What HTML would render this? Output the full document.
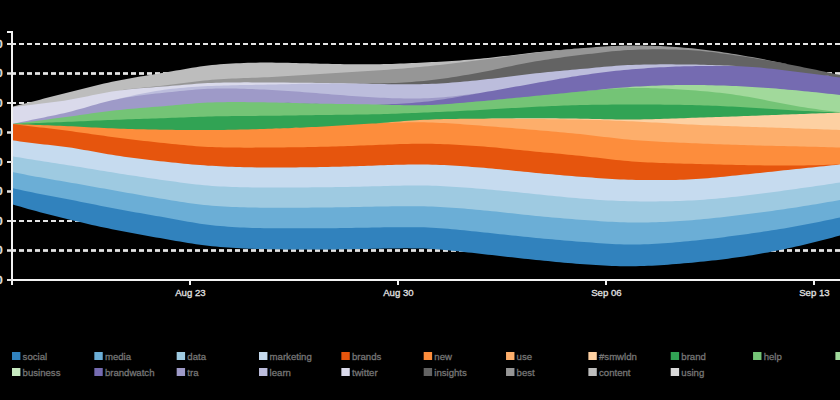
<!DOCTYPE html>
<html><head><meta charset="utf-8"><title>Stream</title>
<style>
html,body{margin:0;padding:0;background:#000;}
body{width:840px;height:400px;overflow:hidden;}
svg{display:block;font-family:"Liberation Sans",sans-serif;font-size:9.6px;}
.grid line{stroke:#e4e4e4;stroke-width:2;stroke-dasharray:5,3;}
.axis line.yt{stroke:#e4e4e4;shape-rendering:auto;}
.axis line,.axis path{stroke:#f2f2f2;stroke-width:2;fill:none;shape-rendering:crispEdges;}
.areas path{stroke:none;}
.areas path.sil{shape-rendering:crispEdges;}
.ax text{fill:#e2e2e2;stroke:#e2e2e2;stroke-width:.3;}
.ax text.yl{font-weight:bold;font-size:10.5px;}
.legend text{fill:#767676;stroke:#767676;stroke-width:.3;}
</style></head><body>
<svg width="840" height="400" viewBox="0 0 840 400">
<rect width="840" height="400" fill="#000"/>
<g class="grid">
<line x1="11" x2="840" y1="44.0" y2="44.0"/>
<line x1="11" x2="840" y1="73.5" y2="73.5"/>
<line x1="11" x2="840" y1="73.5" y2="73.5"/>
<line x1="11" x2="840" y1="73.5" y2="73.5"/>
<line x1="11" x2="840" y1="103.0" y2="103.0"/>
<line x1="11" x2="840" y1="132.5" y2="132.5"/>
<line x1="11" x2="840" y1="132.5" y2="132.5"/>
<line x1="11" x2="840" y1="132.5" y2="132.5"/>
<line x1="11" x2="840" y1="162.0" y2="162.0"/>
<line x1="11" x2="840" y1="191.5" y2="191.5"/>
<line x1="11" x2="840" y1="191.5" y2="191.5"/>
<line x1="11" x2="840" y1="191.5" y2="191.5"/>
<line x1="11" x2="840" y1="221.0" y2="221.0"/>
<line x1="11" x2="840" y1="250.5" y2="250.5"/>
<line x1="11" x2="840" y1="250.5" y2="250.5"/>
<line x1="11" x2="840" y1="250.5" y2="250.5"/>
<line x1="11" x2="840" y1="280.0" y2="280.0"/>
</g>
<g class="areas">
<path fill="#bdbdbd" d="M12.0,106.80L16.0,105.78L20.0,104.75L24.0,103.73L28.0,102.71L32.0,101.68L36.0,100.66L40.0,99.64L44.0,98.61L48.0,97.59L52.0,96.57L56.0,95.54L60.0,94.52L64.0,93.50L68.0,92.48L72.0,91.46L76.0,90.44L80.0,89.42L84.0,88.41L88.0,87.41L92.0,86.42L96.0,85.46L100.0,84.51L104.0,83.59L108.0,82.69L112.0,81.83L116.0,81.00L120.0,80.21L124.0,79.44L128.0,78.70L132.0,77.99L136.0,77.29L140.0,76.61L144.0,75.94L148.0,75.29L152.0,74.63L156.0,73.98L160.0,73.33L164.0,72.67L168.0,72.00L172.0,71.31L176.0,70.61L180.0,69.90L184.0,69.19L188.0,68.49L192.0,67.81L196.0,67.17L200.0,66.57L204.0,66.01L208.0,65.52L212.0,65.09L216.0,64.71L220.0,64.36L224.0,64.05L228.0,63.77L232.0,63.52L236.0,63.31L240.0,63.13L244.0,62.97L248.0,62.84L252.0,62.74L256.0,62.67L260.0,62.62L264.0,62.59L268.0,62.59L272.0,62.60L276.0,62.63L280.0,62.69L284.0,62.75L288.0,62.83L292.0,62.92L296.0,63.02L300.0,63.13L304.0,63.23L308.0,63.34L312.0,63.45L316.0,63.56L320.0,63.66L324.0,63.75L328.0,63.84L332.0,63.92L336.0,63.99L340.0,64.07L344.0,64.13L348.0,64.19L352.0,64.23L356.0,64.27L360.0,64.29L364.0,64.30L368.0,64.30L372.0,64.28L376.0,64.25L380.0,64.19L384.0,64.11L388.0,64.01L392.0,63.89L396.0,63.75L400.0,63.60L404.0,63.43L408.0,63.25L412.0,63.07L416.0,62.89L420.0,62.70L424.0,62.51L428.0,62.31L432.0,62.11L436.0,61.90L440.0,61.67L444.0,61.44L448.0,61.20L452.0,60.94L456.0,60.68L460.0,60.39L464.0,60.10L468.0,59.79L472.0,59.46L476.0,59.11L480.0,58.75L484.0,58.36L488.0,57.95L492.0,57.52L496.0,57.06L500.0,56.60L504.0,56.12L508.0,55.63L512.0,55.15L516.0,54.66L520.0,54.18L524.0,53.70L528.0,53.24L532.0,52.80L536.0,52.37L540.0,51.95L544.0,51.54L548.0,51.14L552.0,50.75L556.0,50.37L560.0,50.00L564.0,49.64L568.0,49.29L572.0,48.95L576.0,48.62L580.0,48.31L584.0,48.00L588.0,47.69L592.0,47.38L596.0,47.08L600.0,46.80L604.0,46.54L608.0,46.30L612.0,46.08L616.0,45.89L620.0,45.73L624.0,45.61L628.0,45.53L632.0,45.48L636.0,45.47L640.0,45.49L644.0,45.55L648.0,45.64L652.0,45.76L656.0,45.91L660.0,46.08L664.0,46.28L668.0,46.51L672.0,46.77L676.0,47.04L680.0,47.34L684.0,47.66L688.0,48.00L692.0,48.37L696.0,48.77L700.0,49.21L704.0,49.68L708.0,50.18L712.0,50.71L716.0,51.26L720.0,51.84L724.0,52.44L728.0,53.06L732.0,53.69L736.0,54.34L740.0,55.00L744.0,55.68L748.0,56.38L752.0,57.10L756.0,57.84L760.0,58.59L764.0,59.36L768.0,60.15L772.0,60.94L776.0,61.74L780.0,62.55L784.0,63.37L788.0,64.18L792.0,65.00L796.0,65.78L800.0,66.57L804.0,67.38L808.0,68.19L812.0,69.02L816.0,69.85L820.0,70.69L824.0,71.54L828.0,72.40L832.0,73.26L836.0,74.13L840.0,75.00L840.0,75.00L836.0,74.13L832.0,73.26L828.0,72.40L824.0,71.54L820.0,70.69L816.0,69.85L812.0,69.02L808.0,68.19L804.0,67.38L800.0,66.57L796.0,65.78L792.0,65.00L788.0,64.18L784.0,63.37L780.0,62.55L776.0,61.75L772.0,60.94L768.0,60.15L764.0,59.37L760.0,58.60L756.0,57.84L752.0,57.10L748.0,56.38L744.0,55.68L740.0,55.00L736.0,54.34L732.0,53.69L728.0,53.06L724.0,52.44L720.0,51.84L716.0,51.26L712.0,50.71L708.0,50.18L704.0,49.68L700.0,49.21L696.0,48.77L692.0,48.37L688.0,48.00L684.0,47.66L680.0,47.35L676.0,47.06L672.0,46.78L668.0,46.54L664.0,46.31L660.0,46.11L656.0,45.94L652.0,45.79L648.0,45.67L644.0,45.58L640.0,45.52L636.0,45.49L632.0,45.49L628.0,45.53L624.0,45.61L620.0,45.73L616.0,45.89L612.0,46.08L608.0,46.30L604.0,46.54L600.0,46.80L596.0,47.08L592.0,47.38L588.0,47.69L584.0,48.00L580.0,48.37L576.0,48.76L572.0,49.19L568.0,49.63L564.0,50.10L560.0,50.58L556.0,51.09L552.0,51.60L548.0,52.13L544.0,52.67L540.0,53.21L536.0,53.75L532.0,54.30L528.0,54.78L524.0,55.27L520.0,55.77L516.0,56.28L512.0,56.80L508.0,57.32L504.0,57.85L500.0,58.38L496.0,58.91L492.0,59.44L488.0,59.96L484.0,60.48L480.0,61.00L476.0,61.51L472.0,62.02L468.0,62.53L464.0,63.03L460.0,63.53L456.0,64.02L452.0,64.51L448.0,64.98L444.0,65.45L440.0,65.91L436.0,66.35L432.0,66.79L428.0,67.21L424.0,67.61L420.0,68.00L416.0,68.37L412.0,68.74L408.0,69.08L404.0,69.42L400.0,69.74L396.0,70.06L392.0,70.36L388.0,70.66L384.0,70.95L380.0,71.23L376.0,71.50L372.0,71.77L368.0,72.03L364.0,72.28L360.0,72.53L356.0,72.78L352.0,73.02L348.0,73.26L344.0,73.51L340.0,73.75L336.0,73.99L332.0,74.24L328.0,74.49L324.0,74.75L320.0,75.01L316.0,75.28L312.0,75.55L308.0,75.82L304.0,76.09L300.0,76.35L296.0,76.61L292.0,76.87L288.0,77.12L284.0,77.36L280.0,77.59L276.0,77.80L272.0,78.00L268.0,78.18L264.0,78.35L260.0,78.51L256.0,78.66L252.0,78.80L248.0,78.94L244.0,79.09L240.0,79.25L236.0,79.41L232.0,79.59L228.0,79.79L224.0,80.01L220.0,80.25L216.0,80.53L212.0,80.83L208.0,81.18L204.0,81.57L200.0,82.00L196.0,82.47L192.0,82.96L188.0,83.47L184.0,83.99L180.0,84.51L176.0,85.02L172.0,85.52L168.0,86.00L164.0,86.45L160.0,86.88L156.0,87.30L152.0,87.72L148.0,88.13L144.0,88.54L140.0,88.96L136.0,89.40L132.0,89.86L128.0,90.34L124.0,90.86L120.0,91.41L116.0,92.00L112.0,92.61L108.0,93.27L104.0,93.99L100.0,94.76L96.0,95.55L92.0,96.36L88.0,97.18L84.0,98.00L80.0,98.81L76.0,99.60L72.0,100.35L68.0,101.05L64.0,101.70L60.0,102.29L56.0,102.83L52.0,103.35L48.0,103.84L44.0,104.32L40.0,104.80L36.0,105.30L32.0,105.80L28.0,106.31L24.0,106.83L20.0,107.35L16.0,107.87L12.0,108.40Z"/>
<path fill="#969696" d="M12.0,107.40L16.0,106.87L20.0,106.35L24.0,105.83L28.0,105.31L32.0,104.80L36.0,104.30L40.0,103.80L44.0,103.32L48.0,102.84L52.0,102.35L56.0,101.83L60.0,101.29L64.0,100.70L68.0,100.05L72.0,99.35L76.0,98.60L80.0,97.81L84.0,97.00L88.0,96.18L92.0,95.36L96.0,94.55L100.0,93.76L104.0,92.99L108.0,92.27L112.0,91.61L116.0,91.00L120.0,90.41L124.0,89.86L128.0,89.34L132.0,88.86L136.0,88.40L140.0,87.96L144.0,87.54L148.0,87.13L152.0,86.72L156.0,86.30L160.0,85.88L164.0,85.45L168.0,85.00L172.0,84.52L176.0,84.02L180.0,83.51L184.0,82.99L188.0,82.47L192.0,81.96L196.0,81.47L200.0,81.00L204.0,80.57L208.0,80.18L212.0,79.83L216.0,79.53L220.0,79.25L224.0,79.01L228.0,78.79L232.0,78.59L236.0,78.41L240.0,78.25L244.0,78.09L248.0,77.94L252.0,77.80L256.0,77.66L260.0,77.51L264.0,77.35L268.0,77.18L272.0,77.00L276.0,76.80L280.0,76.59L284.0,76.36L288.0,76.12L292.0,75.87L296.0,75.61L300.0,75.35L304.0,75.09L308.0,74.82L312.0,74.55L316.0,74.28L320.0,74.01L324.0,73.75L328.0,73.49L332.0,73.24L336.0,72.99L340.0,72.75L344.0,72.51L348.0,72.26L352.0,72.02L356.0,71.78L360.0,71.53L364.0,71.28L368.0,71.03L372.0,70.77L376.0,70.50L380.0,70.23L384.0,69.95L388.0,69.66L392.0,69.36L396.0,69.06L400.0,68.74L404.0,68.42L408.0,68.08L412.0,67.74L416.0,67.37L420.0,67.00L424.0,66.61L428.0,66.21L432.0,65.79L436.0,65.35L440.0,64.91L444.0,64.45L448.0,63.98L452.0,63.51L456.0,63.02L460.0,62.53L464.0,62.03L468.0,61.53L472.0,61.02L476.0,60.51L480.0,60.00L484.0,59.48L488.0,58.96L492.0,58.44L496.0,57.91L500.0,57.38L504.0,56.85L508.0,56.32L512.0,55.80L516.0,55.28L520.0,54.77L524.0,54.27L528.0,53.78L532.0,53.30L536.0,52.83L540.0,52.37L544.0,51.91L548.0,51.47L552.0,51.03L556.0,50.61L560.0,50.19L564.0,49.79L568.0,49.40L572.0,49.03L576.0,48.67L580.0,48.33L584.0,48.00L588.0,47.69L592.0,47.38L596.0,47.08L600.0,46.80L604.0,46.54L608.0,46.30L612.0,46.08L616.0,45.89L620.0,45.73L624.0,45.61L628.0,45.53L632.0,45.48L636.0,45.48L640.0,45.50L644.0,45.56L648.0,45.65L652.0,45.77L656.0,45.92L660.0,46.09L664.0,46.29L668.0,46.52L672.0,46.77L676.0,47.05L680.0,47.34L684.0,47.66L688.0,48.00L692.0,48.37L696.0,48.77L700.0,49.21L704.0,49.68L708.0,50.18L712.0,50.71L716.0,51.26L720.0,51.84L724.0,52.44L728.0,53.06L732.0,53.69L736.0,54.34L740.0,55.00L744.0,55.68L748.0,56.38L752.0,57.10L756.0,57.84L760.0,58.59L764.0,59.37L768.0,60.15L772.0,60.94L776.0,61.74L780.0,62.55L784.0,63.37L788.0,64.18L792.0,65.00L796.0,65.78L800.0,66.57L804.0,67.38L808.0,68.19L812.0,69.02L816.0,69.85L820.0,70.69L824.0,71.54L828.0,72.40L832.0,73.26L836.0,74.13L840.0,75.00L840.0,75.00L836.0,74.13L832.0,73.26L828.0,72.40L824.0,71.54L820.0,70.69L816.0,69.85L812.0,69.02L808.0,68.19L804.0,67.38L800.0,66.57L796.0,65.78L792.0,65.00L788.0,64.33L784.0,63.68L780.0,63.07L776.0,62.47L772.0,61.90L768.0,61.36L764.0,60.83L760.0,60.17L756.0,59.50L752.0,58.85L748.0,58.22L744.0,57.60L740.0,57.00L736.0,56.41L732.0,55.82L728.0,55.24L724.0,54.68L720.0,54.13L716.0,53.60L712.0,53.10L708.0,52.64L704.0,52.21L700.0,51.83L696.0,51.50L692.0,51.22L688.0,51.00L684.0,50.83L680.0,50.68L676.0,50.56L672.0,50.46L668.0,50.39L664.0,50.35L660.0,50.33L656.0,50.34L652.0,50.37L648.0,50.43L644.0,50.51L640.0,50.62L636.0,50.76L632.0,50.91L628.0,51.10L624.0,51.34L620.0,51.63L616.0,51.97L612.0,52.35L608.0,52.77L604.0,53.21L600.0,53.67L596.0,54.15L592.0,54.63L588.0,55.12L584.0,55.60L580.0,56.08L576.0,56.57L572.0,57.07L568.0,57.59L564.0,58.11L560.0,58.66L556.0,59.22L552.0,59.79L548.0,60.39L544.0,61.01L540.0,61.65L536.0,62.31L532.0,63.00L528.0,63.72L524.0,64.48L520.0,65.27L516.0,66.08L512.0,66.91L508.0,67.75L504.0,68.60L500.0,69.45L496.0,70.29L492.0,71.13L488.0,71.94L484.0,72.74L480.0,73.50L476.0,74.24L472.0,74.97L468.0,75.68L464.0,76.37L460.0,77.05L456.0,77.70L452.0,78.33L448.0,78.93L444.0,79.50L440.0,80.05L436.0,80.56L432.0,81.04L428.0,81.48L424.0,81.88L420.0,82.25L416.0,82.58L412.0,82.90L408.0,83.19L404.0,83.45L400.0,83.69L396.0,83.90L392.0,84.08L388.0,84.23L384.0,84.36L380.0,84.44L376.0,84.50L372.0,84.53L368.0,84.54L364.0,84.53L360.0,84.51L356.0,84.47L352.0,84.43L348.0,84.37L344.0,84.31L340.0,84.25L336.0,84.18L332.0,84.12L328.0,84.06L324.0,84.00L320.0,83.95L316.0,83.90L312.0,83.85L308.0,83.81L304.0,83.77L300.0,83.73L296.0,83.69L292.0,83.65L288.0,83.62L284.0,83.59L280.0,83.56L276.0,83.53L272.0,83.50L268.0,83.47L264.0,83.44L260.0,83.42L256.0,83.39L252.0,83.38L248.0,83.37L244.0,83.37L240.0,83.38L236.0,83.40L232.0,83.44L228.0,83.50L224.0,83.57L220.0,83.67L216.0,83.78L212.0,83.92L208.0,84.09L204.0,84.30L200.0,84.55L196.0,84.84L192.0,85.15L188.0,85.49L184.0,85.83L180.0,86.18L176.0,86.53L172.0,86.87L168.0,87.20L164.0,87.51L160.0,87.81L156.0,88.11L152.0,88.40L148.0,88.71L144.0,88.98L140.0,89.14L136.0,89.33L132.0,89.56L128.0,89.84L124.0,90.17L120.0,90.55L116.0,91.00L112.0,91.61L108.0,92.27L104.0,92.99L100.0,93.76L96.0,94.55L92.0,95.36L88.0,96.18L84.0,97.00L80.0,97.81L76.0,98.60L72.0,99.35L68.0,100.05L64.0,100.70L60.0,101.30L56.0,101.85L52.0,102.36L48.0,102.85L44.0,103.33L40.0,103.81L36.0,104.30L32.0,104.80L28.0,105.31L24.0,105.83L20.0,106.35L16.0,106.87L12.0,107.40Z"/>
<path fill="#636363" d="M12.0,107.40L16.0,106.87L20.0,106.35L24.0,105.83L28.0,105.31L32.0,104.80L36.0,104.30L40.0,103.81L44.0,103.32L48.0,102.84L52.0,102.35L56.0,101.84L60.0,101.29L64.0,100.70L68.0,100.05L72.0,99.35L76.0,98.60L80.0,97.81L84.0,97.00L88.0,96.18L92.0,95.36L96.0,94.55L100.0,93.76L104.0,92.99L108.0,92.27L112.0,91.61L116.0,91.00L120.0,90.46L124.0,89.96L128.0,89.51L132.0,89.09L136.0,88.71L140.0,88.35L144.0,88.02L148.0,87.71L152.0,87.40L156.0,87.11L160.0,86.81L164.0,86.51L168.0,86.20L172.0,85.87L176.0,85.53L180.0,85.18L184.0,84.83L188.0,84.49L192.0,84.15L196.0,83.84L200.0,83.55L204.0,83.30L208.0,83.09L212.0,82.92L216.0,82.78L220.0,82.67L224.0,82.57L228.0,82.50L232.0,82.44L236.0,82.40L240.0,82.38L244.0,82.37L248.0,82.37L252.0,82.38L256.0,82.39L260.0,82.42L264.0,82.44L268.0,82.47L272.0,82.50L276.0,82.53L280.0,82.56L284.0,82.59L288.0,82.62L292.0,82.65L296.0,82.69L300.0,82.73L304.0,82.77L308.0,82.81L312.0,82.85L316.0,82.90L320.0,82.95L324.0,83.00L328.0,83.06L332.0,83.12L336.0,83.18L340.0,83.25L344.0,83.31L348.0,83.37L352.0,83.43L356.0,83.47L360.0,83.51L364.0,83.53L368.0,83.54L372.0,83.53L376.0,83.50L380.0,83.44L384.0,83.36L388.0,83.23L392.0,83.08L396.0,82.90L400.0,82.69L404.0,82.45L408.0,82.19L412.0,81.90L416.0,81.58L420.0,81.25L424.0,80.88L428.0,80.48L432.0,80.04L436.0,79.56L440.0,79.05L444.0,78.50L448.0,77.93L452.0,77.33L456.0,76.70L460.0,76.05L464.0,75.37L468.0,74.68L472.0,73.97L476.0,73.24L480.0,72.50L484.0,71.74L488.0,70.94L492.0,70.13L496.0,69.29L500.0,68.45L504.0,67.60L508.0,66.75L512.0,65.91L516.0,65.08L520.0,64.27L524.0,63.48L528.0,62.72L532.0,62.00L536.0,61.31L540.0,60.65L544.0,60.01L548.0,59.39L552.0,58.79L556.0,58.22L560.0,57.66L564.0,57.11L568.0,56.59L572.0,56.07L576.0,55.57L580.0,55.08L584.0,54.60L588.0,54.12L592.0,53.63L596.0,53.15L600.0,52.67L604.0,52.21L608.0,51.77L612.0,51.35L616.0,50.97L620.0,50.63L624.0,50.34L628.0,50.10L632.0,49.91L636.0,49.76L640.0,49.62L644.0,49.51L648.0,49.43L652.0,49.37L656.0,49.34L660.0,49.33L664.0,49.35L668.0,49.39L672.0,49.46L676.0,49.56L680.0,49.68L684.0,49.83L688.0,50.00L692.0,50.22L696.0,50.50L700.0,50.83L704.0,51.21L708.0,51.64L712.0,52.10L716.0,52.60L720.0,53.13L724.0,53.68L728.0,54.24L732.0,54.82L736.0,55.41L740.0,56.00L744.0,56.60L748.0,57.22L752.0,57.85L756.0,58.50L760.0,59.17L764.0,59.85L768.0,60.55L772.0,61.26L776.0,61.99L780.0,62.72L784.0,63.47L788.0,64.23L792.0,65.00L796.0,65.78L800.0,66.57L804.0,67.38L808.0,68.19L812.0,69.02L816.0,69.85L820.0,70.69L824.0,71.54L828.0,72.40L832.0,73.26L836.0,74.13L840.0,75.00L840.0,78.50L836.0,77.95L832.0,77.40L828.0,76.85L824.0,76.31L820.0,75.78L816.0,75.25L812.0,74.73L808.0,74.21L804.0,73.71L800.0,73.21L796.0,72.73L792.0,72.25L788.0,71.77L784.0,71.28L780.0,70.79L776.0,70.31L772.0,69.85L768.0,69.40L764.0,68.98L760.0,68.59L756.0,68.23L752.0,67.91L748.0,67.64L744.0,67.42L740.0,67.25L736.0,67.02L732.0,66.81L728.0,66.62L724.0,66.44L720.0,66.28L716.0,66.13L712.0,66.00L708.0,65.88L704.0,65.78L700.0,65.69L696.0,65.61L692.0,65.55L688.0,65.50L684.0,65.46L680.0,65.42L676.0,65.39L672.0,65.37L668.0,65.36L664.0,65.35L660.0,65.37L656.0,65.39L652.0,65.43L648.0,65.49L644.0,65.57L640.0,65.66L636.0,65.78L632.0,65.92L628.0,66.09L624.0,66.30L620.0,66.55L616.0,66.84L612.0,67.15L608.0,67.50L604.0,67.86L600.0,68.23L596.0,68.61L592.0,69.00L588.0,69.38L584.0,69.75L580.0,70.11L576.0,70.48L572.0,70.84L568.0,71.20L564.0,71.57L560.0,71.94L556.0,72.32L552.0,72.70L548.0,73.09L544.0,73.49L540.0,73.90L536.0,74.32L532.0,74.75L528.0,75.20L524.0,75.67L520.0,76.16L516.0,76.65L512.0,77.15L508.0,77.66L504.0,78.17L500.0,78.67L496.0,79.17L492.0,79.65L488.0,80.12L484.0,80.57L480.0,81.00L476.0,81.41L472.0,81.81L468.0,82.20L464.0,82.58L460.0,82.94L456.0,83.28L452.0,83.61L448.0,83.91L444.0,84.18L440.0,84.43L436.0,84.65L432.0,84.84L428.0,85.00L424.0,85.12L420.0,85.20L416.0,85.25L412.0,85.28L408.0,85.30L404.0,85.29L400.0,85.28L396.0,85.25L392.0,85.21L388.0,85.16L384.0,85.11L380.0,85.06L376.0,85.00L372.0,84.74L368.0,84.50L364.0,84.28L360.0,84.08L356.0,83.90L352.0,83.73L348.0,83.58L344.0,83.45L340.0,83.33L336.0,83.23L332.0,83.14L328.0,83.06L324.0,83.00L320.0,82.95L316.0,82.90L312.0,82.85L308.0,82.81L304.0,82.77L300.0,82.73L296.0,82.69L292.0,82.66L288.0,82.63L284.0,82.59L280.0,82.56L276.0,82.53L272.0,82.50L268.0,82.47L264.0,82.44L260.0,82.42L256.0,82.39L252.0,82.38L248.0,82.37L244.0,82.37L240.0,82.38L236.0,82.40L232.0,82.44L228.0,82.50L224.0,82.57L220.0,82.67L216.0,82.78L212.0,82.92L208.0,83.09L204.0,83.30L200.0,83.55L196.0,83.84L192.0,84.15L188.0,84.49L184.0,84.83L180.0,85.18L176.0,85.53L172.0,85.87L168.0,86.20L164.0,86.51L160.0,86.81L156.0,87.11L152.0,87.40L148.0,87.71L144.0,88.02L140.0,88.35L136.0,88.71L132.0,89.09L128.0,89.51L124.0,89.96L120.0,90.46L116.0,91.00L112.0,91.61L108.0,92.27L104.0,92.99L100.0,93.76L96.0,94.55L92.0,95.36L88.0,96.18L84.0,97.00L80.0,97.81L76.0,98.60L72.0,99.35L68.0,100.05L64.0,100.70L60.0,101.29L56.0,101.84L52.0,102.35L48.0,102.84L44.0,103.32L40.0,103.81L36.0,104.30L32.0,104.80L28.0,105.31L24.0,105.83L20.0,106.35L16.0,106.87L12.0,107.40Z"/>
<path fill="#dadaeb" d="M12.0,107.40L16.0,106.87L20.0,106.35L24.0,105.83L28.0,105.31L32.0,104.80L36.0,104.30L40.0,103.81L44.0,103.32L48.0,102.84L52.0,102.35L56.0,101.84L60.0,101.29L64.0,100.70L68.0,100.05L72.0,99.35L76.0,98.60L80.0,97.81L84.0,97.00L88.0,96.18L92.0,95.36L96.0,94.55L100.0,93.76L104.0,92.99L108.0,92.27L112.0,91.61L116.0,91.00L120.0,90.46L124.0,89.96L128.0,89.51L132.0,89.09L136.0,88.71L140.0,88.35L144.0,88.02L148.0,87.71L152.0,87.40L156.0,87.11L160.0,86.81L164.0,86.51L168.0,86.20L172.0,85.87L176.0,85.53L180.0,85.18L184.0,84.83L188.0,84.49L192.0,84.15L196.0,83.84L200.0,83.55L204.0,83.30L208.0,83.09L212.0,82.92L216.0,82.78L220.0,82.67L224.0,82.57L228.0,82.50L232.0,82.44L236.0,82.40L240.0,82.38L244.0,82.37L248.0,82.37L252.0,82.38L256.0,82.39L260.0,82.42L264.0,82.44L268.0,82.47L272.0,82.50L276.0,82.53L280.0,82.56L284.0,82.59L288.0,82.62L292.0,82.66L296.0,82.69L300.0,82.73L304.0,82.77L308.0,82.81L312.0,82.85L316.0,82.90L320.0,82.95L324.0,83.00L328.0,83.06L332.0,83.13L336.0,83.20L340.0,83.28L344.0,83.36L348.0,83.44L352.0,83.53L356.0,83.61L360.0,83.70L364.0,83.78L368.0,83.86L372.0,83.93L376.0,84.00L380.0,84.06L384.0,84.11L388.0,84.16L392.0,84.21L396.0,84.25L400.0,84.28L404.0,84.29L408.0,84.30L412.0,84.28L416.0,84.25L420.0,84.20L424.0,84.12L428.0,84.00L432.0,83.84L436.0,83.65L440.0,83.43L444.0,83.18L448.0,82.91L452.0,82.61L456.0,82.28L460.0,81.94L464.0,81.58L468.0,81.20L472.0,80.81L476.0,80.41L480.0,80.00L484.0,79.57L488.0,79.12L492.0,78.65L496.0,78.17L500.0,77.67L504.0,77.17L508.0,76.66L512.0,76.15L516.0,75.65L520.0,75.16L524.0,74.67L528.0,74.20L532.0,73.75L536.0,73.32L540.0,72.90L544.0,72.49L548.0,72.09L552.0,71.70L556.0,71.32L560.0,70.94L564.0,70.57L568.0,70.20L572.0,69.84L576.0,69.48L580.0,69.11L584.0,68.75L588.0,68.38L592.0,68.00L596.0,67.61L600.0,67.23L604.0,66.86L608.0,66.50L612.0,66.15L616.0,65.84L620.0,65.55L624.0,65.30L628.0,65.09L632.0,64.92L636.0,64.78L640.0,64.66L644.0,64.57L648.0,64.49L652.0,64.43L656.0,64.39L660.0,64.37L664.0,64.35L668.0,64.36L672.0,64.37L676.0,64.39L680.0,64.42L684.0,64.46L688.0,64.50L692.0,64.55L696.0,64.61L700.0,64.69L704.0,64.78L708.0,64.88L712.0,65.00L716.0,65.13L720.0,65.28L724.0,65.44L728.0,65.62L732.0,65.81L736.0,66.02L740.0,66.25L744.0,66.42L748.0,66.64L752.0,66.91L756.0,67.23L760.0,67.59L764.0,67.98L768.0,68.40L772.0,68.85L776.0,69.31L780.0,69.79L784.0,70.28L788.0,70.77L792.0,71.25L796.0,71.73L800.0,72.21L804.0,72.71L808.0,73.21L812.0,73.73L816.0,74.25L820.0,74.78L824.0,75.31L828.0,75.85L832.0,76.40L836.0,76.95L840.0,77.50L840.0,77.50L836.0,76.95L832.0,76.40L828.0,75.85L824.0,75.31L820.0,74.78L816.0,74.25L812.0,73.73L808.0,73.21L804.0,72.71L800.0,72.21L796.0,71.73L792.0,71.25L788.0,70.77L784.0,70.28L780.0,69.79L776.0,69.31L772.0,68.85L768.0,68.40L764.0,67.98L760.0,67.59L756.0,67.23L752.0,66.91L748.0,66.64L744.0,66.42L740.0,66.25L736.0,66.02L732.0,65.81L728.0,65.62L724.0,65.44L720.0,65.28L716.0,65.13L712.0,65.00L708.0,64.88L704.0,64.78L700.0,64.69L696.0,64.61L692.0,64.55L688.0,64.50L684.0,64.46L680.0,64.42L676.0,64.39L672.0,64.37L668.0,64.36L664.0,64.36L660.0,64.37L656.0,64.39L652.0,64.43L648.0,64.49L644.0,64.57L640.0,64.66L636.0,64.78L632.0,64.92L628.0,65.09L624.0,65.30L620.0,65.55L616.0,65.84L612.0,66.15L608.0,66.50L604.0,66.86L600.0,67.23L596.0,67.61L592.0,68.00L588.0,68.38L584.0,68.75L580.0,69.11L576.0,69.48L572.0,69.84L568.0,70.20L564.0,70.57L560.0,70.94L556.0,71.32L552.0,71.70L548.0,72.09L544.0,72.49L540.0,72.90L536.0,73.32L532.0,73.75L528.0,74.20L524.0,74.67L520.0,75.16L516.0,75.65L512.0,76.15L508.0,76.66L504.0,77.17L500.0,77.67L496.0,78.17L492.0,78.65L488.0,79.12L484.0,79.57L480.0,80.00L476.0,80.41L472.0,80.82L468.0,81.21L464.0,81.59L460.0,81.95L456.0,82.29L452.0,82.62L448.0,82.92L444.0,83.19L440.0,83.44L436.0,83.66L432.0,83.85L428.0,84.00L424.0,84.12L420.0,84.20L416.0,84.25L412.0,84.28L408.0,84.30L404.0,84.29L400.0,84.28L396.0,84.25L392.0,84.21L388.0,84.16L384.0,84.11L380.0,84.06L376.0,84.00L372.0,83.96L368.0,83.93L364.0,83.90L360.0,83.89L356.0,83.89L352.0,83.90L348.0,83.93L344.0,83.97L340.0,84.04L336.0,84.12L332.0,84.22L328.0,84.35L324.0,84.50L320.0,84.53L316.0,84.57L312.0,84.62L308.0,84.69L304.0,84.77L300.0,84.85L296.0,84.94L292.0,85.03L288.0,85.13L284.0,85.23L280.0,85.32L276.0,85.41L272.0,85.50L268.0,85.58L264.0,85.66L260.0,85.73L256.0,85.81L252.0,85.88L248.0,85.95L244.0,86.03L240.0,86.11L236.0,86.20L232.0,86.29L228.0,86.40L224.0,86.51L220.0,86.63L216.0,86.77L212.0,86.92L208.0,87.09L204.0,87.27L200.0,87.49L196.0,87.73L192.0,88.00L188.0,88.30L184.0,88.63L180.0,89.00L176.0,89.39L172.0,89.83L168.0,90.30L164.0,90.82L160.0,91.40L156.0,92.03L152.0,92.70L148.0,93.43L144.0,94.20L140.0,95.01L136.0,95.85L132.0,96.73L128.0,97.63L124.0,98.57L120.0,99.52L116.0,100.50L112.0,101.37L108.0,102.31L104.0,103.32L100.0,104.37L96.0,105.47L92.0,106.60L88.0,107.74L84.0,108.88L80.0,110.01L76.0,111.12L72.0,112.20L68.0,113.23L64.0,114.20L60.0,115.10L56.0,115.95L52.0,116.78L48.0,117.59L44.0,118.39L40.0,119.20L36.0,120.01L32.0,120.82L28.0,121.65L24.0,122.48L20.0,123.32L16.0,124.16L12.0,125.00Z"/>
<path fill="#bcbddc" d="M12.0,124.00L16.0,123.16L20.0,122.32L24.0,121.48L28.0,120.65L32.0,119.82L36.0,119.01L40.0,118.20L44.0,117.39L48.0,116.59L52.0,115.78L56.0,114.95L60.0,114.10L64.0,113.20L68.0,112.23L72.0,111.20L76.0,110.12L80.0,109.01L84.0,107.88L88.0,106.74L92.0,105.60L96.0,104.47L100.0,103.37L104.0,102.32L108.0,101.31L112.0,100.37L116.0,99.50L120.0,98.52L124.0,97.57L128.0,96.63L132.0,95.73L136.0,94.85L140.0,94.01L144.0,93.20L148.0,92.43L152.0,91.70L156.0,91.03L160.0,90.40L164.0,89.82L168.0,89.30L172.0,88.83L176.0,88.39L180.0,88.00L184.0,87.63L188.0,87.30L192.0,87.00L196.0,86.73L200.0,86.49L204.0,86.27L208.0,86.09L212.0,85.92L216.0,85.77L220.0,85.63L224.0,85.51L228.0,85.40L232.0,85.29L236.0,85.20L240.0,85.11L244.0,85.03L248.0,84.95L252.0,84.88L256.0,84.81L260.0,84.73L264.0,84.66L268.0,84.58L272.0,84.50L276.0,84.41L280.0,84.32L284.0,84.23L288.0,84.13L292.0,84.03L296.0,83.94L300.0,83.85L304.0,83.77L308.0,83.69L312.0,83.62L316.0,83.57L320.0,83.53L324.0,83.50L328.0,83.49L332.0,83.49L336.0,83.50L340.0,83.53L344.0,83.56L348.0,83.60L352.0,83.65L356.0,83.71L360.0,83.76L364.0,83.82L368.0,83.88L372.0,83.94L376.0,84.00L380.0,84.06L384.0,84.11L388.0,84.16L392.0,84.21L396.0,84.25L400.0,84.28L404.0,84.29L408.0,84.30L412.0,84.28L416.0,84.25L420.0,84.20L424.0,84.12L428.0,84.00L432.0,83.84L436.0,83.65L440.0,83.43L444.0,83.19L448.0,82.91L452.0,82.61L456.0,82.29L460.0,81.94L464.0,81.58L468.0,81.20L472.0,80.81L476.0,80.41L480.0,80.00L484.0,79.57L488.0,79.12L492.0,78.65L496.0,78.17L500.0,77.67L504.0,77.17L508.0,76.66L512.0,76.15L516.0,75.65L520.0,75.16L524.0,74.67L528.0,74.20L532.0,73.75L536.0,73.32L540.0,72.90L544.0,72.49L548.0,72.09L552.0,71.70L556.0,71.32L560.0,70.94L564.0,70.57L568.0,70.20L572.0,69.84L576.0,69.48L580.0,69.11L584.0,68.75L588.0,68.38L592.0,68.00L596.0,67.61L600.0,67.23L604.0,66.86L608.0,66.50L612.0,66.15L616.0,65.84L620.0,65.55L624.0,65.30L628.0,65.09L632.0,64.92L636.0,64.78L640.0,64.66L644.0,64.57L648.0,64.49L652.0,64.43L656.0,64.39L660.0,64.37L664.0,64.36L668.0,64.36L672.0,64.37L676.0,64.39L680.0,64.42L684.0,64.46L688.0,64.50L692.0,64.55L696.0,64.61L700.0,64.69L704.0,64.78L708.0,64.88L712.0,65.00L716.0,65.13L720.0,65.28L724.0,65.44L728.0,65.62L732.0,65.81L736.0,66.02L740.0,66.25L744.0,66.42L748.0,66.64L752.0,66.91L756.0,67.23L760.0,67.59L764.0,67.98L768.0,68.40L772.0,68.85L776.0,69.31L780.0,69.79L784.0,70.28L788.0,70.77L792.0,71.25L796.0,71.73L800.0,72.21L804.0,72.71L808.0,73.21L812.0,73.73L816.0,74.25L820.0,74.78L824.0,75.31L828.0,75.85L832.0,76.40L836.0,76.95L840.0,77.50L840.0,77.50L836.0,76.96L832.0,76.43L828.0,75.90L824.0,75.37L820.0,74.85L816.0,74.32L812.0,73.80L808.0,73.29L804.0,72.77L800.0,72.26L796.0,71.76L792.0,71.25L788.0,70.77L784.0,70.28L780.0,69.79L776.0,69.31L772.0,68.85L768.0,68.40L764.0,67.98L760.0,67.59L756.0,67.23L752.0,66.91L748.0,66.64L744.0,66.42L740.0,66.25L736.0,66.34L732.0,66.47L728.0,66.65L724.0,66.86L720.0,66.89L716.0,66.88L712.0,66.89L708.0,66.92L704.0,66.96L700.0,67.02L696.0,67.09L692.0,67.16L688.0,67.25L684.0,67.35L680.0,67.47L676.0,67.61L672.0,67.77L668.0,67.94L664.0,68.14L660.0,68.36L656.0,68.59L652.0,68.84L648.0,69.11L644.0,69.39L640.0,69.69L636.0,70.00L632.0,70.33L628.0,70.67L624.0,71.04L620.0,71.44L616.0,71.87L612.0,72.31L608.0,72.78L604.0,73.27L600.0,73.79L596.0,74.32L592.0,74.86L588.0,75.42L584.0,76.00L580.0,76.59L576.0,77.19L572.0,77.82L568.0,78.46L564.0,79.12L560.0,79.79L556.0,80.48L552.0,81.17L548.0,81.87L544.0,82.58L540.0,83.30L536.0,84.02L532.0,84.75L528.0,85.46L524.0,86.17L520.0,86.88L516.0,87.59L512.0,88.31L508.0,89.02L504.0,89.74L500.0,90.46L496.0,91.17L492.0,91.88L488.0,92.59L484.0,93.30L480.0,94.00L476.0,94.56L472.0,95.10L468.0,95.62L464.0,96.11L460.0,96.59L456.0,97.03L452.0,97.44L448.0,97.83L444.0,98.17L440.0,98.48L436.0,98.76L432.0,98.99L428.0,99.17L424.0,99.31L420.0,99.40L416.0,99.45L412.0,99.47L408.0,99.45L404.0,99.41L400.0,99.34L396.0,99.25L392.0,99.14L388.0,99.00L384.0,98.85L380.0,98.68L376.0,98.50L372.0,98.30L368.0,98.07L364.0,97.82L360.0,97.55L356.0,97.27L352.0,96.97L348.0,96.66L344.0,96.35L340.0,96.03L336.0,95.70L332.0,95.38L328.0,95.06L324.0,94.75L320.0,94.44L316.0,94.12L312.0,93.81L308.0,93.49L304.0,93.18L300.0,92.87L296.0,92.57L292.0,92.27L288.0,91.99L284.0,91.72L280.0,91.46L276.0,91.22L272.0,91.00L268.0,90.79L264.0,90.60L260.0,90.41L256.0,90.23L252.0,90.07L248.0,89.93L244.0,89.80L240.0,89.70L236.0,89.61L232.0,89.55L228.0,89.52L224.0,89.52L220.0,89.54L216.0,89.60L212.0,89.69L208.0,89.82L204.0,90.01L200.0,90.26L196.0,90.55L192.0,90.88L188.0,91.25L184.0,91.64L180.0,92.05L176.0,92.46L172.0,92.88L168.0,93.30L164.0,93.71L160.0,94.13L156.0,94.56L152.0,95.01L148.0,95.48L144.0,95.97L140.0,96.49L136.0,97.05L132.0,97.64L128.0,98.28L124.0,98.77L120.0,99.07L116.0,99.50L112.0,100.37L108.0,101.31L104.0,102.32L100.0,103.37L96.0,104.47L92.0,105.60L88.0,106.74L84.0,107.88L80.0,109.01L76.0,110.12L72.0,111.20L68.0,112.23L64.0,113.20L60.0,114.14L56.0,115.02L52.0,115.85L48.0,116.64L44.0,117.42L40.0,118.20L36.0,119.01L32.0,119.82L28.0,120.65L24.0,121.48L20.0,122.32L16.0,123.16L12.0,124.00Z"/>
<path fill="#9e9ac8" d="M12.0,124.00L16.0,123.16L20.0,122.32L24.0,121.48L28.0,120.65L32.0,119.82L36.0,119.01L40.0,118.20L44.0,117.40L48.0,116.61L52.0,115.80L56.0,114.97L60.0,114.11L64.0,113.20L68.0,112.23L72.0,111.20L76.0,110.12L80.0,109.01L84.0,107.88L88.0,106.74L92.0,105.60L96.0,104.47L100.0,103.37L104.0,102.32L108.0,101.31L112.0,100.37L116.0,99.50L120.0,98.71L124.0,97.97L128.0,97.28L132.0,96.64L136.0,96.05L140.0,95.49L144.0,94.97L148.0,94.48L152.0,94.01L156.0,93.56L160.0,93.13L164.0,92.71L168.0,92.30L172.0,91.88L176.0,91.46L180.0,91.05L184.0,90.64L188.0,90.25L192.0,89.88L196.0,89.55L200.0,89.26L204.0,89.01L208.0,88.82L212.0,88.69L216.0,88.60L220.0,88.54L224.0,88.52L228.0,88.52L232.0,88.55L236.0,88.61L240.0,88.70L244.0,88.80L248.0,88.93L252.0,89.07L256.0,89.23L260.0,89.41L264.0,89.60L268.0,89.79L272.0,90.00L276.0,90.22L280.0,90.46L284.0,90.72L288.0,90.99L292.0,91.27L296.0,91.57L300.0,91.87L304.0,92.18L308.0,92.49L312.0,92.81L316.0,93.12L320.0,93.44L324.0,93.75L328.0,94.06L332.0,94.38L336.0,94.70L340.0,95.03L344.0,95.35L348.0,95.66L352.0,95.97L356.0,96.27L360.0,96.55L364.0,96.82L368.0,97.07L372.0,97.30L376.0,97.50L380.0,97.68L384.0,97.85L388.0,98.00L392.0,98.14L396.0,98.25L400.0,98.34L404.0,98.41L408.0,98.45L412.0,98.47L416.0,98.45L420.0,98.40L424.0,98.31L428.0,98.17L432.0,97.99L436.0,97.76L440.0,97.48L444.0,97.17L448.0,96.83L452.0,96.44L456.0,96.03L460.0,95.59L464.0,95.11L468.0,94.62L472.0,94.10L476.0,93.56L480.0,93.00L484.0,92.30L488.0,91.59L492.0,90.88L496.0,90.17L500.0,89.46L504.0,88.74L508.0,88.02L512.0,87.31L516.0,86.59L520.0,85.88L524.0,85.17L528.0,84.46L532.0,83.75L536.0,83.02L540.0,82.30L544.0,81.58L548.0,80.87L552.0,80.17L556.0,79.48L560.0,78.79L564.0,78.12L568.0,77.46L572.0,76.82L576.0,76.19L580.0,75.59L584.0,75.00L588.0,74.42L592.0,73.86L596.0,73.32L600.0,72.79L604.0,72.27L608.0,71.78L612.0,71.31L616.0,70.87L620.0,70.44L624.0,70.04L628.0,69.67L632.0,69.33L636.0,69.00L640.0,68.69L644.0,68.39L648.0,68.11L652.0,67.84L656.0,67.59L660.0,67.36L664.0,67.14L668.0,66.94L672.0,66.77L676.0,66.61L680.0,66.47L684.0,66.35L688.0,66.25L692.0,66.16L696.0,66.09L700.0,66.02L704.0,65.96L708.0,65.92L712.0,65.89L716.0,65.88L720.0,65.89L724.0,65.91L728.0,65.96L732.0,66.03L736.0,66.13L740.0,66.25L744.0,66.42L748.0,66.64L752.0,66.91L756.0,67.23L760.0,67.59L764.0,67.98L768.0,68.40L772.0,68.85L776.0,69.31L780.0,69.79L784.0,70.28L788.0,70.77L792.0,71.25L796.0,71.74L800.0,72.23L804.0,72.73L808.0,73.24L812.0,73.75L816.0,74.27L820.0,74.80L824.0,75.33L828.0,75.87L832.0,76.41L836.0,76.95L840.0,77.50L840.0,77.50L836.0,76.95L832.0,76.41L828.0,75.87L824.0,75.33L820.0,74.80L816.0,74.27L812.0,73.75L808.0,73.24L804.0,72.73L800.0,72.23L796.0,71.74L792.0,71.25L788.0,70.77L784.0,70.28L780.0,69.79L776.0,69.32L772.0,68.85L768.0,68.40L764.0,67.98L760.0,67.59L756.0,67.23L752.0,66.91L748.0,66.64L744.0,66.42L740.0,66.25L736.0,66.13L732.0,66.03L728.0,65.96L724.0,65.91L720.0,65.89L716.0,65.88L712.0,65.89L708.0,65.92L704.0,65.96L700.0,66.02L696.0,66.09L692.0,66.16L688.0,66.25L684.0,66.35L680.0,66.47L676.0,66.61L672.0,66.77L668.0,66.95L664.0,67.15L660.0,67.37L656.0,67.60L652.0,67.85L648.0,68.12L644.0,68.40L640.0,68.70L636.0,69.01L632.0,69.33L628.0,69.67L624.0,70.04L620.0,70.44L616.0,70.87L612.0,71.31L608.0,71.78L604.0,72.27L600.0,72.79L596.0,73.32L592.0,73.86L588.0,74.42L584.0,75.00L580.0,75.61L576.0,76.23L572.0,76.88L568.0,77.55L564.0,78.23L560.0,78.92L556.0,79.61L552.0,80.31L548.0,81.01L544.0,81.71L540.0,82.40L536.0,83.08L532.0,83.75L528.0,84.46L524.0,85.17L520.0,85.88L516.0,86.59L512.0,87.31L508.0,88.02L504.0,88.74L500.0,89.46L496.0,90.17L492.0,90.88L488.0,91.59L484.0,92.30L480.0,93.00L476.0,94.00L472.0,95.05L468.0,96.13L464.0,96.84L460.0,97.54L456.0,98.23L452.0,98.91L448.0,99.56L444.0,100.20L440.0,100.80L436.0,101.37L432.0,101.91L428.0,102.40L424.0,102.85L420.0,103.25L416.0,103.61L412.0,103.94L408.0,104.24L404.0,104.51L400.0,104.74L396.0,104.95L392.0,105.12L388.0,105.27L384.0,105.38L380.0,105.46L376.0,105.50L372.0,105.42L368.0,105.35L364.0,105.28L360.0,105.22L356.0,105.17L352.0,105.12L348.0,105.07L344.0,105.02L340.0,104.97L336.0,104.92L332.0,104.87L328.0,104.81L324.0,104.75L320.0,104.65L316.0,104.56L312.0,104.45L308.0,104.35L304.0,104.24L300.0,104.14L296.0,104.03L292.0,103.93L288.0,103.83L284.0,103.74L280.0,103.65L276.0,103.57L272.0,103.50L268.0,103.43L264.0,103.35L260.0,103.29L256.0,103.23L252.0,103.17L248.0,103.13L244.0,103.10L240.0,103.08L236.0,103.07L232.0,103.08L228.0,103.11L224.0,103.16L220.0,103.23L216.0,103.32L212.0,103.43L208.0,103.58L204.0,103.78L200.0,104.02L196.0,104.31L192.0,104.63L188.0,104.98L184.0,105.35L180.0,105.72L176.0,106.09L172.0,106.45L168.0,106.80L164.0,107.13L160.0,107.45L156.0,107.77L152.0,108.09L148.0,108.40L144.0,108.72L140.0,109.05L136.0,109.38L132.0,109.73L128.0,110.09L124.0,110.47L120.0,110.88L116.0,111.30L112.0,111.75L108.0,112.23L104.0,112.74L100.0,113.26L96.0,113.80L92.0,114.36L88.0,114.92L84.0,115.49L80.0,116.06L76.0,116.63L72.0,117.20L68.0,117.76L64.0,118.30L60.0,118.83L56.0,119.35L52.0,119.87L48.0,120.38L44.0,120.89L40.0,121.40L36.0,121.91L32.0,122.42L28.0,122.93L24.0,123.45L20.0,123.96L16.0,124.13L12.0,124.00Z"/>
<path fill="#756bb1" d="M12.0,124.00L16.0,123.48L20.0,122.96L24.0,122.45L28.0,121.93L32.0,121.42L36.0,120.91L40.0,120.40L44.0,119.89L48.0,119.38L52.0,118.87L56.0,118.35L60.0,117.83L64.0,117.30L68.0,116.76L72.0,116.20L76.0,115.63L80.0,115.06L84.0,114.49L88.0,113.92L92.0,113.36L96.0,112.80L100.0,112.26L104.0,111.74L108.0,111.23L112.0,110.75L116.0,110.30L120.0,109.88L124.0,109.47L128.0,109.09L132.0,108.73L136.0,108.38L140.0,108.05L144.0,107.72L148.0,107.40L152.0,107.09L156.0,106.77L160.0,106.45L164.0,106.13L168.0,105.80L172.0,105.45L176.0,105.09L180.0,104.72L184.0,104.35L188.0,103.98L192.0,103.63L196.0,103.31L200.0,103.02L204.0,102.78L208.0,102.58L212.0,102.43L216.0,102.32L220.0,102.23L224.0,102.16L228.0,102.11L232.0,102.08L236.0,102.07L240.0,102.08L244.0,102.10L248.0,102.13L252.0,102.17L256.0,102.23L260.0,102.29L264.0,102.35L268.0,102.43L272.0,102.50L276.0,102.57L280.0,102.65L284.0,102.74L288.0,102.83L292.0,102.93L296.0,103.03L300.0,103.14L304.0,103.24L308.0,103.35L312.0,103.45L316.0,103.56L320.0,103.65L324.0,103.75L328.0,103.81L332.0,103.87L336.0,103.92L340.0,103.97L344.0,104.02L348.0,104.07L352.0,104.12L356.0,104.17L360.0,104.22L364.0,104.28L368.0,104.35L372.0,104.42L376.0,104.50L380.0,104.46L384.0,104.38L388.0,104.27L392.0,104.12L396.0,103.95L400.0,103.74L404.0,103.51L408.0,103.24L412.0,102.94L416.0,102.61L420.0,102.25L424.0,101.85L428.0,101.40L432.0,100.91L436.0,100.37L440.0,99.80L444.0,99.20L448.0,98.56L452.0,97.91L456.0,97.23L460.0,96.54L464.0,95.84L468.0,95.13L472.0,94.42L476.0,93.70L480.0,93.00L484.0,92.30L488.0,91.59L492.0,90.88L496.0,90.17L500.0,89.46L504.0,88.74L508.0,88.02L512.0,87.31L516.0,86.59L520.0,85.88L524.0,85.17L528.0,84.46L532.0,83.75L536.0,83.04L540.0,82.33L544.0,81.63L548.0,80.92L552.0,80.22L556.0,79.52L560.0,78.83L564.0,78.16L568.0,77.49L572.0,76.84L576.0,76.21L580.0,75.59L584.0,75.00L588.0,74.42L592.0,73.86L596.0,73.32L600.0,72.79L604.0,72.27L608.0,71.78L612.0,71.31L616.0,70.87L620.0,70.44L624.0,70.04L628.0,69.67L632.0,69.33L636.0,69.00L640.0,68.69L644.0,68.39L648.0,68.11L652.0,67.84L656.0,67.59L660.0,67.36L664.0,67.14L668.0,66.95L672.0,66.77L676.0,66.61L680.0,66.47L684.0,66.35L688.0,66.25L692.0,66.16L696.0,66.09L700.0,66.02L704.0,65.96L708.0,65.92L712.0,65.89L716.0,65.88L720.0,65.89L724.0,65.91L728.0,65.96L732.0,66.03L736.0,66.13L740.0,66.25L744.0,66.42L748.0,66.64L752.0,66.91L756.0,67.23L760.0,67.59L764.0,67.98L768.0,68.40L772.0,68.85L776.0,69.31L780.0,69.79L784.0,70.28L788.0,70.77L792.0,71.25L796.0,71.74L800.0,72.23L804.0,72.73L808.0,73.24L812.0,73.75L816.0,74.27L820.0,74.80L824.0,75.33L828.0,75.87L832.0,76.41L836.0,76.95L840.0,77.50L840.0,96.00L836.0,95.55L832.0,95.10L828.0,94.66L824.0,94.22L820.0,93.79L816.0,93.37L812.0,92.95L808.0,92.54L804.0,92.14L800.0,91.75L796.0,91.37L792.0,91.00L788.0,90.64L784.0,90.29L780.0,89.95L776.0,89.61L772.0,89.29L768.0,88.98L764.0,88.68L760.0,88.40L756.0,88.14L752.0,87.89L748.0,87.65L744.0,87.44L740.0,87.25L736.0,87.07L732.0,86.91L728.0,86.76L724.0,86.62L720.0,86.49L716.0,86.38L712.0,86.28L708.0,86.19L704.0,86.12L700.0,86.07L696.0,86.03L692.0,86.00L688.0,86.00L684.0,86.01L680.0,86.05L676.0,86.10L672.0,86.17L668.0,86.26L664.0,86.37L660.0,86.50L656.0,86.64L652.0,86.80L648.0,86.98L644.0,87.18L640.0,87.39L636.0,87.62L632.0,87.87L628.0,88.14L624.0,88.43L620.0,88.75L616.0,89.10L612.0,89.46L608.0,89.84L604.0,90.24L600.0,90.64L596.0,91.04L592.0,91.45L588.0,91.85L584.0,92.25L580.0,92.61L576.0,92.99L572.0,93.36L568.0,93.74L564.0,94.13L560.0,94.51L556.0,94.90L552.0,95.29L548.0,95.69L544.0,96.08L540.0,96.47L536.0,96.86L532.0,97.25L528.0,97.64L524.0,98.02L520.0,98.41L516.0,98.81L512.0,99.20L508.0,99.59L504.0,99.98L500.0,100.37L496.0,100.76L492.0,101.14L488.0,101.52L484.0,101.89L480.0,102.25L476.0,102.61L472.0,102.97L468.0,103.34L464.0,103.69L460.0,104.04L456.0,104.37L452.0,104.69L448.0,104.99L444.0,105.27L440.0,105.52L436.0,105.74L432.0,105.93L428.0,106.08L424.0,106.19L420.0,106.25L416.0,106.27L412.0,106.26L408.0,106.23L404.0,106.17L400.0,106.09L396.0,106.00L392.0,105.90L388.0,105.80L384.0,105.32L380.0,104.86L376.0,104.50L372.0,104.42L368.0,104.35L364.0,104.28L360.0,104.22L356.0,104.17L352.0,104.12L348.0,104.07L344.0,104.02L340.0,103.97L336.0,103.92L332.0,103.87L328.0,103.81L324.0,103.75L320.0,103.72L316.0,103.67L312.0,103.60L308.0,103.51L304.0,103.41L300.0,103.30L296.0,103.19L292.0,103.06L288.0,102.94L284.0,102.82L280.0,102.70L276.0,102.60L272.0,102.50L268.0,102.43L264.0,102.35L260.0,102.29L256.0,102.23L252.0,102.17L248.0,102.13L244.0,102.10L240.0,102.08L236.0,102.07L232.0,102.08L228.0,102.11L224.0,102.16L220.0,102.23L216.0,102.32L212.0,102.43L208.0,102.58L204.0,102.78L200.0,103.03L196.0,103.32L192.0,103.64L188.0,103.99L184.0,104.35L180.0,104.72L176.0,105.09L172.0,105.45L168.0,105.80L164.0,106.13L160.0,106.45L156.0,106.77L152.0,107.09L148.0,107.40L144.0,107.72L140.0,108.05L136.0,108.38L132.0,108.73L128.0,109.09L124.0,109.47L120.0,109.88L116.0,110.30L112.0,110.75L108.0,111.23L104.0,111.74L100.0,112.26L96.0,112.80L92.0,113.36L88.0,113.92L84.0,114.49L80.0,115.06L76.0,115.63L72.0,116.20L68.0,116.76L64.0,117.30L60.0,117.83L56.0,118.35L52.0,118.87L48.0,119.38L44.0,119.89L40.0,120.40L36.0,120.91L32.0,121.42L28.0,121.93L24.0,122.45L20.0,122.96L16.0,123.48L12.0,124.00Z"/>
<path fill="#a1d99b" d="M12.0,124.00L16.0,123.48L20.0,122.96L24.0,122.45L28.0,121.93L32.0,121.42L36.0,120.91L40.0,120.40L44.0,119.89L48.0,119.38L52.0,118.87L56.0,118.35L60.0,117.83L64.0,117.30L68.0,116.76L72.0,116.20L76.0,115.63L80.0,115.06L84.0,114.49L88.0,113.92L92.0,113.36L96.0,112.80L100.0,112.26L104.0,111.74L108.0,111.23L112.0,110.75L116.0,110.30L120.0,109.88L124.0,109.47L128.0,109.09L132.0,108.73L136.0,108.38L140.0,108.05L144.0,107.72L148.0,107.40L152.0,107.09L156.0,106.77L160.0,106.45L164.0,106.13L168.0,105.80L172.0,105.45L176.0,105.09L180.0,104.72L184.0,104.35L188.0,103.98L192.0,103.64L196.0,103.31L200.0,103.03L204.0,102.78L208.0,102.58L212.0,102.43L216.0,102.32L220.0,102.23L224.0,102.16L228.0,102.11L232.0,102.08L236.0,102.07L240.0,102.08L244.0,102.10L248.0,102.13L252.0,102.17L256.0,102.23L260.0,102.29L264.0,102.35L268.0,102.43L272.0,102.50L276.0,102.58L280.0,102.67L284.0,102.77L288.0,102.87L292.0,102.97L296.0,103.08L300.0,103.19L304.0,103.30L308.0,103.40L312.0,103.50L316.0,103.59L320.0,103.68L324.0,103.75L328.0,103.81L332.0,103.87L336.0,103.92L340.0,103.97L344.0,104.02L348.0,104.07L352.0,104.12L356.0,104.17L360.0,104.22L364.0,104.28L368.0,104.35L372.0,104.42L376.0,104.50L380.0,104.59L384.0,104.69L388.0,104.80L392.0,104.90L396.0,105.00L400.0,105.09L404.0,105.17L408.0,105.23L412.0,105.26L416.0,105.27L420.0,105.25L424.0,105.19L428.0,105.08L432.0,104.93L436.0,104.74L440.0,104.52L444.0,104.27L448.0,103.99L452.0,103.69L456.0,103.37L460.0,103.04L464.0,102.69L468.0,102.34L472.0,101.97L476.0,101.61L480.0,101.25L484.0,100.89L488.0,100.52L492.0,100.14L496.0,99.76L500.0,99.37L504.0,98.98L508.0,98.59L512.0,98.20L516.0,97.81L520.0,97.41L524.0,97.02L528.0,96.64L532.0,96.25L536.0,95.86L540.0,95.47L544.0,95.08L548.0,94.69L552.0,94.29L556.0,93.90L560.0,93.51L564.0,93.13L568.0,92.74L572.0,92.36L576.0,91.99L580.0,91.61L584.0,91.25L588.0,90.85L592.0,90.45L596.0,90.04L600.0,89.64L604.0,89.24L608.0,88.84L612.0,88.46L616.0,88.10L620.0,87.75L624.0,87.43L628.0,87.14L632.0,86.87L636.0,86.62L640.0,86.39L644.0,86.18L648.0,85.98L652.0,85.80L656.0,85.64L660.0,85.50L664.0,85.37L668.0,85.26L672.0,85.17L676.0,85.10L680.0,85.05L684.0,85.01L688.0,85.00L692.0,85.00L696.0,85.03L700.0,85.07L704.0,85.12L708.0,85.19L712.0,85.28L716.0,85.38L720.0,85.49L724.0,85.62L728.0,85.76L732.0,85.91L736.0,86.07L740.0,86.25L744.0,86.44L748.0,86.65L752.0,86.89L756.0,87.14L760.0,87.40L764.0,87.68L768.0,87.98L772.0,88.29L776.0,88.61L780.0,88.95L784.0,89.29L788.0,89.64L792.0,90.00L796.0,90.37L800.0,90.75L804.0,91.14L808.0,91.54L812.0,91.95L816.0,92.37L820.0,92.79L824.0,93.22L828.0,93.66L832.0,94.10L836.0,94.55L840.0,95.00L840.0,113.30L836.0,112.78L832.0,112.26L828.0,111.73L824.0,111.19L820.0,110.64L816.0,110.07L812.0,109.49L808.0,108.89L804.0,108.28L800.0,107.64L796.0,106.98L792.0,106.30L788.0,105.59L784.0,104.84L780.0,104.06L776.0,103.27L772.0,102.47L768.0,101.66L764.0,100.85L760.0,100.06L756.0,99.28L752.0,98.53L748.0,97.81L744.0,97.13L740.0,96.50L736.0,95.91L732.0,95.35L728.0,94.82L724.0,94.32L720.0,93.85L716.0,93.41L712.0,92.99L708.0,92.60L704.0,92.24L700.0,91.89L696.0,91.57L692.0,91.28L688.0,91.00L684.0,90.74L680.0,90.48L676.0,90.24L672.0,90.01L668.0,89.80L664.0,89.60L660.0,89.43L656.0,89.27L652.0,89.15L648.0,89.05L644.0,88.98L640.0,88.94L636.0,88.93L632.0,88.97L628.0,89.04L624.0,89.17L620.0,89.35L616.0,89.53L612.0,89.59L608.0,89.71L604.0,89.89L600.0,90.11L596.0,90.37L592.0,90.65L588.0,90.95L584.0,91.25L580.0,91.61L576.0,91.99L572.0,92.36L568.0,92.74L564.0,93.13L560.0,93.51L556.0,93.90L552.0,94.29L548.0,94.69L544.0,95.08L540.0,95.47L536.0,95.86L532.0,96.25L528.0,96.65L524.0,97.04L520.0,97.44L516.0,97.83L512.0,98.23L508.0,98.62L504.0,99.01L500.0,99.39L496.0,99.77L492.0,100.15L488.0,100.52L484.0,100.89L480.0,101.25L476.0,101.61L472.0,101.97L468.0,102.34L464.0,102.69L460.0,103.04L456.0,103.37L452.0,103.69L448.0,103.99L444.0,104.27L440.0,104.52L436.0,104.74L432.0,104.93L428.0,105.08L424.0,105.19L420.0,105.25L416.0,105.27L412.0,105.27L408.0,105.23L404.0,105.17L400.0,105.09L396.0,105.00L392.0,104.90L388.0,104.80L384.0,104.69L380.0,104.59L376.0,104.50L372.0,104.42L368.0,104.35L364.0,104.28L360.0,104.22L356.0,104.17L352.0,104.12L348.0,104.07L344.0,104.02L340.0,103.97L336.0,103.92L332.0,103.87L328.0,103.81L324.0,103.75L320.0,103.68L316.0,103.59L312.0,103.50L308.0,103.40L304.0,103.30L300.0,103.19L296.0,103.08L292.0,102.98L288.0,102.87L284.0,102.77L280.0,102.67L276.0,102.58L272.0,102.50L268.0,102.43L264.0,102.35L260.0,102.29L256.0,102.23L252.0,102.17L248.0,102.13L244.0,102.10L240.0,102.08L236.0,102.07L232.0,102.08L228.0,102.11L224.0,102.16L220.0,102.23L216.0,102.32L212.0,102.43L208.0,102.58L204.0,102.78L200.0,103.03L196.0,103.31L192.0,103.64L188.0,103.98L184.0,104.35L180.0,104.72L176.0,105.09L172.0,105.45L168.0,105.80L164.0,106.13L160.0,106.45L156.0,106.77L152.0,107.09L148.0,107.40L144.0,107.72L140.0,108.05L136.0,108.38L132.0,108.73L128.0,109.09L124.0,109.47L120.0,109.88L116.0,110.30L112.0,110.75L108.0,111.23L104.0,111.74L100.0,112.26L96.0,112.80L92.0,113.36L88.0,113.92L84.0,114.49L80.0,115.06L76.0,115.63L72.0,116.20L68.0,116.76L64.0,117.30L60.0,117.83L56.0,118.35L52.0,118.87L48.0,119.38L44.0,119.89L40.0,120.40L36.0,120.91L32.0,121.42L28.0,121.93L24.0,122.45L20.0,122.96L16.0,123.48L12.0,124.00Z"/>
<path fill="#74c476" d="M12.0,124.00L16.0,123.48L20.0,122.96L24.0,122.45L28.0,121.93L32.0,121.42L36.0,120.91L40.0,120.40L44.0,119.89L48.0,119.38L52.0,118.87L56.0,118.35L60.0,117.83L64.0,117.30L68.0,116.76L72.0,116.20L76.0,115.63L80.0,115.06L84.0,114.49L88.0,113.92L92.0,113.36L96.0,112.80L100.0,112.26L104.0,111.74L108.0,111.23L112.0,110.75L116.0,110.30L120.0,109.88L124.0,109.47L128.0,109.09L132.0,108.73L136.0,108.38L140.0,108.05L144.0,107.72L148.0,107.40L152.0,107.09L156.0,106.77L160.0,106.45L164.0,106.13L168.0,105.80L172.0,105.45L176.0,105.09L180.0,104.72L184.0,104.35L188.0,103.98L192.0,103.64L196.0,103.31L200.0,103.03L204.0,102.78L208.0,102.58L212.0,102.43L216.0,102.32L220.0,102.23L224.0,102.16L228.0,102.11L232.0,102.08L236.0,102.07L240.0,102.08L244.0,102.10L248.0,102.13L252.0,102.17L256.0,102.23L260.0,102.29L264.0,102.35L268.0,102.43L272.0,102.50L276.0,102.58L280.0,102.67L284.0,102.77L288.0,102.87L292.0,102.98L296.0,103.08L300.0,103.19L304.0,103.30L308.0,103.40L312.0,103.50L316.0,103.59L320.0,103.68L324.0,103.75L328.0,103.81L332.0,103.87L336.0,103.92L340.0,103.97L344.0,104.02L348.0,104.07L352.0,104.12L356.0,104.17L360.0,104.22L364.0,104.28L368.0,104.35L372.0,104.42L376.0,104.50L380.0,104.59L384.0,104.69L388.0,104.80L392.0,104.90L396.0,105.00L400.0,105.09L404.0,105.17L408.0,105.23L412.0,105.26L416.0,105.27L420.0,105.25L424.0,105.19L428.0,105.08L432.0,104.93L436.0,104.74L440.0,104.52L444.0,104.27L448.0,103.99L452.0,103.69L456.0,103.37L460.0,103.04L464.0,102.69L468.0,102.34L472.0,101.97L476.0,101.61L480.0,101.25L484.0,100.89L488.0,100.52L492.0,100.14L496.0,99.76L500.0,99.38L504.0,98.99L508.0,98.60L512.0,98.21L516.0,97.82L520.0,97.42L524.0,97.03L528.0,96.64L532.0,96.25L536.0,95.86L540.0,95.47L544.0,95.08L548.0,94.69L552.0,94.29L556.0,93.90L560.0,93.51L564.0,93.13L568.0,92.74L572.0,92.36L576.0,91.99L580.0,91.61L584.0,91.25L588.0,90.89L592.0,90.52L596.0,90.15L600.0,89.80L604.0,89.45L608.0,89.13L612.0,88.84L616.0,88.58L620.0,88.35L624.0,88.17L628.0,88.04L632.0,87.97L636.0,87.93L640.0,87.94L644.0,87.98L648.0,88.05L652.0,88.15L656.0,88.27L660.0,88.43L664.0,88.60L668.0,88.80L672.0,89.01L676.0,89.24L680.0,89.48L684.0,89.74L688.0,90.00L692.0,90.28L696.0,90.57L700.0,90.89L704.0,91.24L708.0,91.60L712.0,91.99L716.0,92.41L720.0,92.85L724.0,93.32L728.0,93.82L732.0,94.35L736.0,94.91L740.0,95.50L744.0,96.13L748.0,96.81L752.0,97.53L756.0,98.28L760.0,99.06L764.0,99.85L768.0,100.66L772.0,101.47L776.0,102.27L780.0,103.06L784.0,103.84L788.0,104.59L792.0,105.30L796.0,105.98L800.0,106.64L804.0,107.28L808.0,107.89L812.0,108.49L816.0,109.07L820.0,109.64L824.0,110.19L828.0,110.73L832.0,111.26L836.0,111.78L840.0,112.30L840.0,113.50L836.0,113.51L832.0,113.31L828.0,113.12L824.0,112.92L820.0,112.72L816.0,112.51L812.0,112.30L808.0,112.09L804.0,111.88L800.0,111.66L796.0,111.43L792.0,111.20L788.0,110.96L784.0,110.72L780.0,110.46L776.0,110.21L772.0,109.95L768.0,109.69L764.0,109.43L760.0,109.18L756.0,108.93L752.0,108.68L748.0,108.44L744.0,108.22L740.0,108.00L736.0,107.79L732.0,107.59L728.0,107.40L724.0,107.22L720.0,107.04L716.0,106.87L712.0,106.71L708.0,106.56L704.0,106.43L700.0,106.30L696.0,106.19L692.0,106.09L688.0,106.00L684.0,105.92L680.0,105.85L676.0,105.79L672.0,105.73L668.0,105.68L664.0,105.64L660.0,105.60L656.0,105.57L652.0,105.55L648.0,105.53L644.0,105.51L640.0,105.50L636.0,105.50L632.0,105.50L628.0,105.50L624.0,105.52L620.0,105.53L616.0,105.56L612.0,105.59L608.0,105.63L604.0,105.67L600.0,105.72L596.0,105.78L592.0,105.85L588.0,105.92L584.0,106.00L580.0,106.09L576.0,106.19L572.0,106.31L568.0,106.44L564.0,106.58L560.0,106.73L556.0,106.89L552.0,107.06L548.0,107.23L544.0,107.41L540.0,107.60L536.0,107.80L532.0,108.00L528.0,108.21L524.0,108.43L520.0,108.65L516.0,108.88L512.0,109.12L508.0,109.36L504.0,109.60L500.0,109.84L496.0,110.08L492.0,110.32L488.0,110.55L484.0,110.78L480.0,111.00L476.0,111.21L472.0,111.42L468.0,111.62L464.0,111.82L460.0,112.01L456.0,112.20L452.0,112.39L448.0,112.57L444.0,112.75L440.0,112.92L436.0,113.09L432.0,113.26L428.0,113.43L424.0,113.59L420.0,113.75L416.0,113.91L412.0,114.07L408.0,114.22L404.0,114.37L400.0,114.52L396.0,114.66L392.0,114.80L388.0,114.93L384.0,115.04L380.0,115.15L376.0,115.25L372.0,115.34L368.0,115.41L364.0,115.48L360.0,115.55L356.0,115.61L352.0,115.66L348.0,115.71L344.0,115.76L340.0,115.81L336.0,115.85L332.0,115.90L328.0,115.95L324.0,116.00L320.0,116.06L316.0,116.11L312.0,116.17L308.0,116.23L304.0,116.30L300.0,116.36L296.0,116.42L292.0,116.48L288.0,116.54L284.0,116.60L280.0,116.65L276.0,116.70L272.0,116.75L268.0,116.79L264.0,116.83L260.0,116.87L256.0,116.90L252.0,116.93L248.0,116.97L244.0,117.00L240.0,117.04L236.0,117.08L232.0,117.12L228.0,117.17L224.0,117.23L220.0,117.30L216.0,117.37L212.0,117.45L208.0,117.55L204.0,117.66L200.0,117.79L196.0,117.92L192.0,118.07L188.0,118.22L184.0,118.38L180.0,118.54L176.0,118.70L172.0,118.85L168.0,119.00L164.0,119.14L160.0,119.28L156.0,119.42L152.0,119.56L148.0,119.69L144.0,119.82L140.0,119.96L136.0,120.09L132.0,120.23L128.0,120.36L124.0,120.50L120.0,120.65L116.0,120.80L112.0,120.96L108.0,121.12L104.0,121.28L100.0,121.45L96.0,121.62L92.0,121.80L88.0,121.97L84.0,122.15L80.0,122.32L76.0,122.50L72.0,122.67L68.0,122.84L64.0,123.00L60.0,123.16L56.0,123.32L52.0,123.47L48.0,123.62L44.0,123.77L40.0,123.92L36.0,124.08L32.0,124.23L28.0,124.38L24.0,124.54L20.0,124.69L16.0,124.57L12.0,124.00Z"/>
<path fill="#31a354" d="M12.0,124.00L16.0,123.85L20.0,123.69L24.0,123.54L28.0,123.38L32.0,123.23L36.0,123.08L40.0,122.92L44.0,122.77L48.0,122.62L52.0,122.47L56.0,122.32L60.0,122.16L64.0,122.00L68.0,121.84L72.0,121.67L76.0,121.50L80.0,121.32L84.0,121.15L88.0,120.97L92.0,120.80L96.0,120.62L100.0,120.45L104.0,120.28L108.0,120.12L112.0,119.96L116.0,119.80L120.0,119.65L124.0,119.50L128.0,119.36L132.0,119.23L136.0,119.09L140.0,118.96L144.0,118.82L148.0,118.69L152.0,118.56L156.0,118.42L160.0,118.28L164.0,118.14L168.0,118.00L172.0,117.85L176.0,117.70L180.0,117.54L184.0,117.38L188.0,117.22L192.0,117.07L196.0,116.92L200.0,116.79L204.0,116.66L208.0,116.55L212.0,116.45L216.0,116.37L220.0,116.30L224.0,116.23L228.0,116.17L232.0,116.12L236.0,116.08L240.0,116.04L244.0,116.00L248.0,115.97L252.0,115.93L256.0,115.90L260.0,115.87L264.0,115.83L268.0,115.79L272.0,115.75L276.0,115.70L280.0,115.65L284.0,115.60L288.0,115.54L292.0,115.48L296.0,115.42L300.0,115.36L304.0,115.30L308.0,115.23L312.0,115.17L316.0,115.11L320.0,115.06L324.0,115.00L328.0,114.95L332.0,114.90L336.0,114.85L340.0,114.81L344.0,114.76L348.0,114.71L352.0,114.66L356.0,114.61L360.0,114.55L364.0,114.48L368.0,114.41L372.0,114.34L376.0,114.25L380.0,114.15L384.0,114.04L388.0,113.93L392.0,113.80L396.0,113.66L400.0,113.52L404.0,113.37L408.0,113.22L412.0,113.07L416.0,112.91L420.0,112.75L424.0,112.59L428.0,112.43L432.0,112.26L436.0,112.09L440.0,111.92L444.0,111.75L448.0,111.57L452.0,111.39L456.0,111.20L460.0,111.01L464.0,110.82L468.0,110.62L472.0,110.42L476.0,110.21L480.0,110.00L484.0,109.78L488.0,109.55L492.0,109.32L496.0,109.08L500.0,108.84L504.0,108.60L508.0,108.36L512.0,108.12L516.0,107.88L520.0,107.65L524.0,107.43L528.0,107.21L532.0,107.00L536.0,106.80L540.0,106.60L544.0,106.41L548.0,106.23L552.0,106.06L556.0,105.89L560.0,105.73L564.0,105.58L568.0,105.44L572.0,105.31L576.0,105.19L580.0,105.09L584.0,105.00L588.0,104.92L592.0,104.85L596.0,104.78L600.0,104.72L604.0,104.67L608.0,104.63L612.0,104.59L616.0,104.56L620.0,104.53L624.0,104.52L628.0,104.50L632.0,104.50L636.0,104.50L640.0,104.50L644.0,104.51L648.0,104.53L652.0,104.55L656.0,104.57L660.0,104.60L664.0,104.64L668.0,104.68L672.0,104.73L676.0,104.79L680.0,104.85L684.0,104.92L688.0,105.00L692.0,105.09L696.0,105.19L700.0,105.30L704.0,105.43L708.0,105.56L712.0,105.71L716.0,105.87L720.0,106.04L724.0,106.22L728.0,106.40L732.0,106.59L736.0,106.79L740.0,107.00L744.0,107.22L748.0,107.44L752.0,107.68L756.0,107.93L760.0,108.18L764.0,108.43L768.0,108.69L772.0,108.95L776.0,109.21L780.0,109.46L784.0,109.72L788.0,109.96L792.0,110.20L796.0,110.43L800.0,110.66L804.0,110.88L808.0,111.09L812.0,111.30L816.0,111.51L820.0,111.72L824.0,111.92L828.0,112.12L832.0,112.31L836.0,112.51L840.0,112.70L840.0,112.70L836.0,113.47L832.0,113.95L828.0,114.08L824.0,114.21L820.0,114.34L816.0,114.47L812.0,114.61L808.0,114.74L804.0,114.88L800.0,115.02L796.0,115.16L792.0,115.30L788.0,115.45L784.0,115.59L780.0,115.74L776.0,115.89L772.0,116.05L768.0,116.20L764.0,116.35L760.0,116.51L756.0,116.66L752.0,116.81L748.0,116.96L744.0,117.11L740.0,117.25L736.0,117.39L732.0,117.53L728.0,117.67L724.0,117.80L720.0,117.94L716.0,118.07L712.0,118.20L708.0,118.34L704.0,118.47L700.0,118.60L696.0,118.73L692.0,118.87L688.0,119.00L684.0,119.14L680.0,119.28L676.0,119.42L672.0,119.56L668.0,119.69L664.0,119.83L660.0,119.95L656.0,120.07L652.0,120.18L648.0,120.28L644.0,120.36L640.0,120.42L636.0,120.47L632.0,120.49L628.0,120.50L624.0,120.48L620.0,120.45L616.0,120.40L612.0,120.33L608.0,120.26L604.0,120.17L600.0,120.09L596.0,120.00L592.0,119.91L588.0,119.83L584.0,119.75L580.0,119.68L576.0,119.61L572.0,119.55L568.0,119.49L564.0,119.44L560.0,119.39L556.0,119.35L552.0,119.31L548.0,119.28L544.0,119.26L540.0,119.25L536.0,119.25L532.0,119.25L528.0,119.26L524.0,119.28L520.0,119.31L516.0,119.35L512.0,119.39L508.0,119.43L504.0,119.47L500.0,119.52L496.0,119.57L492.0,119.62L488.0,119.66L484.0,119.71L480.0,119.75L476.0,119.75L472.0,119.76L468.0,119.78L464.0,119.81L460.0,119.84L456.0,119.89L452.0,119.95L448.0,120.03L444.0,120.12L440.0,120.22L436.0,120.34L432.0,120.48L428.0,120.63L424.0,120.81L420.0,121.00L416.0,121.22L412.0,121.47L408.0,121.76L404.0,122.07L400.0,122.39L396.0,122.73L392.0,123.08L388.0,123.42L384.0,123.76L380.0,124.09L376.0,124.40L372.0,124.60L368.0,124.81L364.0,125.03L360.0,125.27L356.0,125.52L352.0,125.77L348.0,126.03L344.0,126.29L340.0,126.54L336.0,126.79L332.0,127.04L328.0,127.28L324.0,127.50L320.0,127.70L316.0,127.89L312.0,128.09L308.0,128.28L304.0,128.46L300.0,128.65L296.0,128.82L292.0,128.99L288.0,129.16L284.0,129.32L280.0,129.47L276.0,129.62L272.0,129.75L268.0,129.87L264.0,129.99L260.0,130.11L256.0,130.22L252.0,130.33L248.0,130.43L244.0,130.52L240.0,130.61L236.0,130.69L232.0,130.76L228.0,130.83L224.0,130.88L220.0,130.93L216.0,130.97L212.0,130.99L208.0,131.01L204.0,131.01L200.0,131.01L196.0,131.00L192.0,130.99L188.0,130.97L184.0,130.95L180.0,130.92L176.0,130.88L172.0,130.84L168.0,130.80L164.0,130.75L160.0,130.69L156.0,130.62L152.0,130.55L148.0,130.47L144.0,130.37L140.0,130.27L136.0,130.17L132.0,130.05L128.0,129.92L124.0,129.79L120.0,129.65L116.0,129.50L112.0,129.34L108.0,129.17L104.0,128.98L100.0,128.79L96.0,128.59L92.0,128.38L88.0,128.18L84.0,127.97L80.0,127.76L76.0,127.56L72.0,127.37L68.0,127.18L64.0,127.00L60.0,126.83L56.0,126.67L52.0,126.52L48.0,126.37L44.0,126.22L40.0,126.07L36.0,125.92L32.0,125.77L28.0,125.62L24.0,125.47L20.0,125.31L16.0,124.78L12.0,124.00Z"/>
<path fill="#fdd0a2" d="M12.0,124.00L16.0,124.16L20.0,124.31L24.0,124.47L28.0,124.62L32.0,124.77L36.0,124.92L40.0,125.07L44.0,125.22L48.0,125.37L52.0,125.52L56.0,125.67L60.0,125.83L64.0,126.00L68.0,126.18L72.0,126.37L76.0,126.56L80.0,126.76L84.0,126.97L88.0,127.18L92.0,127.38L96.0,127.59L100.0,127.79L104.0,127.98L108.0,128.17L112.0,128.34L116.0,128.50L120.0,128.65L124.0,128.79L128.0,128.92L132.0,129.05L136.0,129.17L140.0,129.27L144.0,129.37L148.0,129.47L152.0,129.55L156.0,129.62L160.0,129.69L164.0,129.75L168.0,129.80L172.0,129.84L176.0,129.88L180.0,129.92L184.0,129.95L188.0,129.97L192.0,129.99L196.0,130.00L200.0,130.01L204.0,130.01L208.0,130.01L212.0,129.99L216.0,129.97L220.0,129.93L224.0,129.88L228.0,129.83L232.0,129.76L236.0,129.69L240.0,129.61L244.0,129.52L248.0,129.43L252.0,129.33L256.0,129.22L260.0,129.11L264.0,128.99L268.0,128.87L272.0,128.75L276.0,128.62L280.0,128.47L284.0,128.32L288.0,128.16L292.0,127.99L296.0,127.82L300.0,127.65L304.0,127.46L308.0,127.28L312.0,127.09L316.0,126.89L320.0,126.70L324.0,126.50L328.0,126.28L332.0,126.04L336.0,125.79L340.0,125.54L344.0,125.29L348.0,125.03L352.0,124.77L356.0,124.52L360.0,124.27L364.0,124.03L368.0,123.81L372.0,123.60L376.0,123.40L380.0,123.09L384.0,122.76L388.0,122.42L392.0,122.08L396.0,121.73L400.0,121.39L404.0,121.07L408.0,120.76L412.0,120.47L416.0,120.22L420.0,120.00L424.0,119.81L428.0,119.63L432.0,119.48L436.0,119.34L440.0,119.22L444.0,119.12L448.0,119.03L452.0,118.95L456.0,118.89L460.0,118.84L464.0,118.81L468.0,118.78L472.0,118.76L476.0,118.75L480.0,118.75L484.0,118.71L488.0,118.66L492.0,118.62L496.0,118.57L500.0,118.52L504.0,118.47L508.0,118.43L512.0,118.39L516.0,118.35L520.0,118.31L524.0,118.28L528.0,118.26L532.0,118.25L536.0,118.25L540.0,118.25L544.0,118.26L548.0,118.28L552.0,118.31L556.0,118.35L560.0,118.39L564.0,118.44L568.0,118.49L572.0,118.55L576.0,118.61L580.0,118.68L584.0,118.75L588.0,118.83L592.0,118.91L596.0,119.00L600.0,119.09L604.0,119.17L608.0,119.26L612.0,119.33L616.0,119.40L620.0,119.45L624.0,119.48L628.0,119.50L632.0,119.49L636.0,119.47L640.0,119.42L644.0,119.36L648.0,119.28L652.0,119.18L656.0,119.07L660.0,118.95L664.0,118.83L668.0,118.69L672.0,118.56L676.0,118.42L680.0,118.28L684.0,118.14L688.0,118.00L692.0,117.87L696.0,117.73L700.0,117.60L704.0,117.47L708.0,117.34L712.0,117.20L716.0,117.07L720.0,116.94L724.0,116.80L728.0,116.67L732.0,116.53L736.0,116.39L740.0,116.25L744.0,116.11L748.0,115.96L752.0,115.81L756.0,115.66L760.0,115.51L764.0,115.35L768.0,115.20L772.0,115.05L776.0,114.89L780.0,114.74L784.0,114.59L788.0,114.45L792.0,114.30L796.0,114.16L800.0,114.02L804.0,113.88L808.0,113.74L812.0,113.61L816.0,113.47L820.0,113.34L824.0,113.21L828.0,113.08L832.0,112.95L836.0,112.83L840.0,112.70L840.0,131.00L836.0,130.85L832.0,130.70L828.0,130.55L824.0,130.40L820.0,130.26L816.0,130.11L812.0,129.96L808.0,129.82L804.0,129.67L800.0,129.53L796.0,129.39L792.0,129.25L788.0,129.11L784.0,128.98L780.0,128.84L776.0,128.71L772.0,128.57L768.0,128.44L764.0,128.31L760.0,128.18L756.0,128.04L752.0,127.91L748.0,127.78L744.0,127.64L740.0,127.50L736.0,127.36L732.0,127.22L728.0,127.07L724.0,126.92L720.0,126.77L716.0,126.62L712.0,126.46L708.0,126.30L704.0,126.13L700.0,125.96L696.0,125.78L692.0,125.59L688.0,125.40L684.0,125.20L680.0,124.99L676.0,124.77L672.0,124.55L668.0,124.32L664.0,124.09L660.0,123.86L656.0,123.62L652.0,123.40L648.0,123.17L644.0,122.95L640.0,122.74L636.0,122.54L632.0,122.34L628.0,122.16L624.0,121.99L620.0,121.82L616.0,121.66L612.0,121.51L608.0,121.37L604.0,121.24L600.0,121.11L596.0,121.00L592.0,120.89L588.0,120.79L584.0,120.70L580.0,120.62L576.0,120.54L572.0,120.47L568.0,120.41L564.0,120.35L560.0,120.29L556.0,120.24L552.0,120.19L548.0,120.15L544.0,120.10L540.0,120.07L536.0,120.03L532.0,120.00L528.0,119.97L524.0,119.94L520.0,119.91L516.0,119.89L512.0,119.81L508.0,119.66L504.0,119.51L500.0,119.36L496.0,119.21L492.0,119.08L488.0,118.95L484.0,118.84L480.0,118.75L476.0,118.75L472.0,118.76L468.0,118.78L464.0,118.81L460.0,118.84L456.0,118.89L452.0,118.95L448.0,119.03L444.0,119.12L440.0,119.22L436.0,119.34L432.0,119.48L428.0,119.63L424.0,119.81L420.0,120.00L416.0,120.23L412.0,120.50L408.0,120.79L404.0,121.10L400.0,121.43L396.0,121.76L392.0,122.10L388.0,122.44L384.0,122.78L380.0,123.10L376.0,123.40L372.0,123.60L368.0,123.81L364.0,124.03L360.0,124.27L356.0,124.52L352.0,124.77L348.0,125.03L344.0,125.29L340.0,125.54L336.0,125.79L332.0,126.04L328.0,126.28L324.0,126.50L320.0,126.70L316.0,126.89L312.0,127.09L308.0,127.28L304.0,127.47L300.0,127.65L296.0,127.83L292.0,128.00L288.0,128.16L284.0,128.32L280.0,128.47L276.0,128.62L272.0,128.75L268.0,128.87L264.0,128.99L260.0,129.11L256.0,129.22L252.0,129.33L248.0,129.43L244.0,129.52L240.0,129.61L236.0,129.69L232.0,129.76L228.0,129.83L224.0,129.88L220.0,129.93L216.0,129.97L212.0,129.99L208.0,130.01L204.0,130.01L200.0,130.01L196.0,130.00L192.0,129.99L188.0,129.97L184.0,129.95L180.0,129.92L176.0,129.88L172.0,129.84L168.0,129.80L164.0,129.75L160.0,129.69L156.0,129.62L152.0,129.55L148.0,129.47L144.0,129.37L140.0,129.27L136.0,129.17L132.0,129.05L128.0,128.92L124.0,128.79L120.0,128.65L116.0,128.50L112.0,128.34L108.0,128.17L104.0,127.98L100.0,127.79L96.0,127.59L92.0,127.38L88.0,127.18L84.0,126.97L80.0,126.76L76.0,126.56L72.0,126.37L68.0,126.18L64.0,126.00L60.0,125.83L56.0,125.67L52.0,125.52L48.0,125.37L44.0,125.22L40.0,125.07L36.0,124.92L32.0,124.77L28.0,124.62L24.0,124.47L20.0,124.31L16.0,124.16L12.0,124.00Z"/>
<path fill="#fdae6b" d="M12.0,124.00L16.0,124.16L20.0,124.31L24.0,124.47L28.0,124.62L32.0,124.77L36.0,124.92L40.0,125.07L44.0,125.22L48.0,125.37L52.0,125.52L56.0,125.67L60.0,125.83L64.0,126.00L68.0,126.18L72.0,126.37L76.0,126.56L80.0,126.76L84.0,126.97L88.0,127.18L92.0,127.38L96.0,127.59L100.0,127.79L104.0,127.98L108.0,128.17L112.0,128.34L116.0,128.50L120.0,128.65L124.0,128.79L128.0,128.92L132.0,129.05L136.0,129.17L140.0,129.27L144.0,129.37L148.0,129.47L152.0,129.55L156.0,129.62L160.0,129.69L164.0,129.75L168.0,129.80L172.0,129.84L176.0,129.88L180.0,129.92L184.0,129.95L188.0,129.97L192.0,129.99L196.0,130.00L200.0,130.01L204.0,130.01L208.0,130.01L212.0,129.99L216.0,129.97L220.0,129.93L224.0,129.88L228.0,129.83L232.0,129.76L236.0,129.69L240.0,129.61L244.0,129.52L248.0,129.43L252.0,129.33L256.0,129.22L260.0,129.11L264.0,128.99L268.0,128.87L272.0,128.75L276.0,128.62L280.0,128.47L284.0,128.32L288.0,128.16L292.0,128.00L296.0,127.82L300.0,127.65L304.0,127.46L308.0,127.28L312.0,127.09L316.0,126.89L320.0,126.70L324.0,126.50L328.0,126.28L332.0,126.04L336.0,125.79L340.0,125.54L344.0,125.29L348.0,125.03L352.0,124.77L356.0,124.52L360.0,124.27L364.0,124.03L368.0,123.81L372.0,123.60L376.0,123.40L380.0,123.09L384.0,122.77L388.0,122.43L392.0,122.09L396.0,121.74L400.0,121.40L404.0,121.08L408.0,120.77L412.0,120.48L416.0,120.22L420.0,120.00L424.0,119.81L428.0,119.63L432.0,119.48L436.0,119.34L440.0,119.22L444.0,119.12L448.0,119.03L452.0,118.95L456.0,118.89L460.0,118.84L464.0,118.81L468.0,118.78L472.0,118.76L476.0,118.75L480.0,118.75L484.0,118.75L488.0,118.76L492.0,118.77L496.0,118.78L500.0,118.80L504.0,118.82L508.0,118.84L512.0,118.86L516.0,118.89L520.0,118.91L524.0,118.94L528.0,118.97L532.0,119.00L536.0,119.03L540.0,119.07L544.0,119.10L548.0,119.15L552.0,119.19L556.0,119.24L560.0,119.29L564.0,119.35L568.0,119.41L572.0,119.47L576.0,119.54L580.0,119.62L584.0,119.70L588.0,119.79L592.0,119.89L596.0,120.00L600.0,120.11L604.0,120.24L608.0,120.37L612.0,120.51L616.0,120.66L620.0,120.82L624.0,120.99L628.0,121.16L632.0,121.34L636.0,121.54L640.0,121.74L644.0,121.95L648.0,122.17L652.0,122.40L656.0,122.62L660.0,122.86L664.0,123.09L668.0,123.32L672.0,123.55L676.0,123.77L680.0,123.99L684.0,124.20L688.0,124.40L692.0,124.59L696.0,124.78L700.0,124.96L704.0,125.13L708.0,125.30L712.0,125.46L716.0,125.62L720.0,125.77L724.0,125.92L728.0,126.07L732.0,126.22L736.0,126.36L740.0,126.50L744.0,126.64L748.0,126.78L752.0,126.91L756.0,127.04L760.0,127.18L764.0,127.31L768.0,127.44L772.0,127.57L776.0,127.71L780.0,127.84L784.0,127.98L788.0,128.11L792.0,128.25L796.0,128.39L800.0,128.53L804.0,128.67L808.0,128.82L812.0,128.96L816.0,129.11L820.0,129.26L824.0,129.40L828.0,129.55L832.0,129.70L836.0,129.85L840.0,130.00L840.0,148.50L836.0,148.39L832.0,148.28L828.0,148.17L824.0,148.06L820.0,147.96L816.0,147.85L812.0,147.75L808.0,147.64L804.0,147.54L800.0,147.44L796.0,147.35L792.0,147.25L788.0,147.16L784.0,147.07L780.0,146.98L776.0,146.89L772.0,146.80L768.0,146.72L764.0,146.63L760.0,146.53L756.0,146.44L752.0,146.34L748.0,146.23L744.0,146.12L740.0,146.00L736.0,145.87L732.0,145.74L728.0,145.60L724.0,145.46L720.0,145.31L716.0,145.15L712.0,144.99L708.0,144.83L704.0,144.67L700.0,144.50L696.0,144.33L692.0,144.17L688.0,144.00L684.0,143.83L680.0,143.67L676.0,143.50L672.0,143.33L668.0,143.15L664.0,142.96L660.0,142.76L656.0,142.55L652.0,142.33L648.0,142.09L644.0,141.83L640.0,141.55L636.0,141.25L632.0,140.92L628.0,140.57L624.0,140.18L620.0,139.76L616.0,139.31L612.0,138.85L608.0,138.37L604.0,137.88L600.0,137.38L596.0,136.89L592.0,136.41L588.0,135.95L584.0,135.50L580.0,135.07L576.0,134.66L572.0,134.26L568.0,133.88L564.0,133.50L560.0,133.13L556.0,132.78L552.0,132.43L548.0,132.08L544.0,131.74L540.0,131.41L536.0,131.08L532.0,130.75L528.0,130.42L524.0,130.09L520.0,129.76L516.0,129.44L512.0,129.11L508.0,128.78L504.0,128.46L500.0,128.14L496.0,127.83L492.0,127.51L488.0,127.20L484.0,126.90L480.0,126.60L476.0,126.30L472.0,126.00L468.0,125.70L464.0,125.41L460.0,125.12L456.0,124.84L452.0,124.58L448.0,124.33L444.0,124.10L440.0,123.90L436.0,123.72L432.0,123.56L428.0,123.44L424.0,123.35L420.0,123.30L416.0,123.28L412.0,123.30L408.0,123.34L404.0,123.41L400.0,123.50L396.0,123.61L392.0,123.74L388.0,123.79L384.0,123.60L380.0,123.47L376.0,123.40L372.0,123.60L368.0,123.81L364.0,124.03L360.0,124.27L356.0,124.52L352.0,124.77L348.0,125.03L344.0,125.29L340.0,125.54L336.0,125.79L332.0,126.04L328.0,126.28L324.0,126.50L320.0,126.75L316.0,126.98L312.0,127.20L308.0,127.40L304.0,127.59L300.0,127.77L296.0,127.94L292.0,128.09L288.0,128.24L284.0,128.38L280.0,128.51L276.0,128.63L272.0,128.75L268.0,128.87L264.0,128.99L260.0,129.11L256.0,129.22L252.0,129.33L248.0,129.43L244.0,129.52L240.0,129.61L236.0,129.69L232.0,129.76L228.0,129.83L224.0,129.88L220.0,129.93L216.0,129.97L212.0,129.99L208.0,130.01L204.0,130.02L200.0,130.02L196.0,130.01L192.0,130.00L188.0,129.98L184.0,129.95L180.0,129.92L176.0,129.89L172.0,129.84L168.0,129.80L164.0,129.75L160.0,129.69L156.0,129.62L152.0,129.55L148.0,129.47L144.0,129.37L140.0,129.27L136.0,129.17L132.0,129.05L128.0,128.92L124.0,128.79L120.0,128.65L116.0,128.50L112.0,128.34L108.0,128.17L104.0,127.98L100.0,127.79L96.0,127.59L92.0,127.38L88.0,127.18L84.0,126.97L80.0,126.76L76.0,126.56L72.0,126.37L68.0,126.18L64.0,126.00L60.0,125.83L56.0,125.67L52.0,125.52L48.0,125.37L44.0,125.22L40.0,125.07L36.0,124.92L32.0,124.77L28.0,124.62L24.0,124.47L20.0,124.31L16.0,124.16L12.0,124.00Z"/>
<path fill="#fd8d3c" d="M12.0,124.00L16.0,124.16L20.0,124.31L24.0,124.47L28.0,124.62L32.0,124.77L36.0,124.92L40.0,125.07L44.0,125.22L48.0,125.37L52.0,125.52L56.0,125.67L60.0,125.83L64.0,126.00L68.0,126.18L72.0,126.37L76.0,126.56L80.0,126.76L84.0,126.97L88.0,127.18L92.0,127.38L96.0,127.59L100.0,127.79L104.0,127.98L108.0,128.17L112.0,128.34L116.0,128.50L120.0,128.65L124.0,128.79L128.0,128.92L132.0,129.05L136.0,129.17L140.0,129.27L144.0,129.37L148.0,129.47L152.0,129.55L156.0,129.62L160.0,129.69L164.0,129.75L168.0,129.80L172.0,129.84L176.0,129.88L180.0,129.92L184.0,129.95L188.0,129.97L192.0,129.99L196.0,130.01L200.0,130.01L204.0,130.01L208.0,130.01L212.0,129.99L216.0,129.97L220.0,129.93L224.0,129.88L228.0,129.83L232.0,129.76L236.0,129.69L240.0,129.61L244.0,129.52L248.0,129.43L252.0,129.33L256.0,129.22L260.0,129.11L264.0,128.99L268.0,128.87L272.0,128.75L276.0,128.62L280.0,128.48L284.0,128.34L288.0,128.19L292.0,128.03L296.0,127.86L300.0,127.69L304.0,127.51L308.0,127.32L312.0,127.12L316.0,126.92L320.0,126.71L324.0,126.50L328.0,126.28L332.0,126.04L336.0,125.79L340.0,125.54L344.0,125.29L348.0,125.03L352.0,124.77L356.0,124.52L360.0,124.27L364.0,124.03L368.0,123.81L372.0,123.60L376.0,123.40L380.0,123.22L384.0,123.05L388.0,122.88L392.0,122.74L396.0,122.61L400.0,122.50L404.0,122.41L408.0,122.34L412.0,122.30L416.0,122.28L420.0,122.30L424.0,122.35L428.0,122.44L432.0,122.56L436.0,122.72L440.0,122.90L444.0,123.10L448.0,123.33L452.0,123.58L456.0,123.84L460.0,124.12L464.0,124.41L468.0,124.70L472.0,125.00L476.0,125.30L480.0,125.60L484.0,125.90L488.0,126.20L492.0,126.51L496.0,126.83L500.0,127.14L504.0,127.46L508.0,127.78L512.0,128.11L516.0,128.44L520.0,128.76L524.0,129.09L528.0,129.42L532.0,129.75L536.0,130.08L540.0,130.41L544.0,130.74L548.0,131.08L552.0,131.43L556.0,131.78L560.0,132.13L564.0,132.50L568.0,132.88L572.0,133.26L576.0,133.66L580.0,134.07L584.0,134.50L588.0,134.95L592.0,135.41L596.0,135.89L600.0,136.38L604.0,136.88L608.0,137.37L612.0,137.85L616.0,138.31L620.0,138.76L624.0,139.18L628.0,139.57L632.0,139.92L636.0,140.25L640.0,140.55L644.0,140.83L648.0,141.09L652.0,141.33L656.0,141.55L660.0,141.76L664.0,141.96L668.0,142.15L672.0,142.33L676.0,142.50L680.0,142.67L684.0,142.83L688.0,143.00L692.0,143.17L696.0,143.33L700.0,143.50L704.0,143.67L708.0,143.83L712.0,143.99L716.0,144.15L720.0,144.31L724.0,144.46L728.0,144.60L732.0,144.74L736.0,144.87L740.0,145.00L744.0,145.12L748.0,145.23L752.0,145.34L756.0,145.44L760.0,145.53L764.0,145.63L768.0,145.72L772.0,145.80L776.0,145.89L780.0,145.98L784.0,146.07L788.0,146.16L792.0,146.25L796.0,146.35L800.0,146.44L804.0,146.54L808.0,146.64L812.0,146.75L816.0,146.85L820.0,146.96L824.0,147.06L828.0,147.17L832.0,147.28L836.0,147.39L840.0,147.50L840.0,165.50L836.0,165.62L832.0,165.74L828.0,165.85L824.0,165.95L820.0,166.06L816.0,166.15L812.0,166.24L808.0,166.31L804.0,166.38L800.0,166.43L796.0,166.47L792.0,166.50L788.0,166.51L784.0,166.52L780.0,166.51L776.0,166.49L772.0,166.46L768.0,166.43L764.0,166.38L760.0,166.33L756.0,166.27L752.0,166.21L748.0,166.14L744.0,166.07L740.0,166.00L736.0,165.92L732.0,165.84L728.0,165.75L724.0,165.66L720.0,165.57L716.0,165.47L712.0,165.37L708.0,165.27L704.0,165.17L700.0,165.07L696.0,164.96L692.0,164.86L688.0,164.75L684.0,164.64L680.0,164.54L676.0,164.43L672.0,164.31L668.0,164.19L664.0,164.05L660.0,163.91L656.0,163.75L652.0,163.58L648.0,163.38L644.0,163.17L640.0,162.94L636.0,162.68L632.0,162.40L628.0,162.09L624.0,161.74L620.0,161.35L616.0,160.94L612.0,160.50L608.0,160.04L604.0,159.57L600.0,159.09L596.0,158.62L592.0,158.15L588.0,157.69L584.0,157.25L580.0,156.83L576.0,156.42L572.0,156.02L568.0,155.63L564.0,155.24L560.0,154.87L556.0,154.49L552.0,154.12L548.0,153.75L544.0,153.38L540.0,153.01L536.0,152.63L532.0,152.25L528.0,151.86L524.0,151.46L520.0,151.05L516.0,150.64L512.0,150.22L508.0,149.81L504.0,149.41L500.0,149.01L496.0,148.62L492.0,148.25L488.0,147.90L484.0,147.56L480.0,147.25L476.0,146.96L472.0,146.68L468.0,146.41L464.0,146.16L460.0,145.93L456.0,145.71L452.0,145.51L448.0,145.33L444.0,145.18L440.0,145.04L436.0,144.93L432.0,144.85L428.0,144.79L424.0,144.75L420.0,144.75L416.0,144.78L412.0,144.83L408.0,144.91L404.0,145.01L400.0,145.12L396.0,145.25L392.0,145.39L388.0,145.54L384.0,145.70L380.0,145.85L376.0,146.00L372.0,146.15L368.0,146.30L364.0,146.45L360.0,146.60L356.0,146.75L352.0,146.90L348.0,147.04L344.0,147.18L340.0,147.31L336.0,147.43L332.0,147.55L328.0,147.66L324.0,147.75L320.0,147.84L316.0,147.92L312.0,147.99L308.0,148.06L304.0,148.13L300.0,148.19L296.0,148.24L292.0,148.30L288.0,148.34L284.0,148.39L280.0,148.43L276.0,148.47L272.0,148.50L268.0,148.53L264.0,148.56L260.0,148.59L256.0,148.61L252.0,148.63L248.0,148.64L244.0,148.64L240.0,148.62L236.0,148.60L232.0,148.56L228.0,148.50L224.0,148.42L220.0,148.33L216.0,148.22L212.0,148.08L208.0,147.91L204.0,147.70L200.0,147.45L196.0,147.15L192.0,146.83L188.0,146.48L184.0,146.10L180.0,145.71L176.0,145.31L172.0,144.91L168.0,144.50L164.0,144.09L160.0,143.68L156.0,143.25L152.0,142.82L148.0,142.37L144.0,141.92L140.0,141.46L136.0,140.99L132.0,140.51L128.0,140.02L124.0,139.53L120.0,139.02L116.0,138.50L112.0,137.97L108.0,137.43L104.0,136.87L100.0,136.31L96.0,135.74L92.0,135.17L88.0,134.60L84.0,134.03L80.0,133.47L76.0,132.91L72.0,132.36L68.0,131.82L64.0,131.30L60.0,130.79L56.0,130.30L52.0,129.82L48.0,129.34L44.0,128.86L40.0,128.39L36.0,127.91L32.0,127.43L28.0,126.95L24.0,126.46L20.0,125.97L16.0,125.15L12.0,124.00Z"/>
<path fill="#e6550d" d="M12.0,124.00L16.0,124.49L20.0,124.97L24.0,125.46L28.0,125.95L32.0,126.43L36.0,126.91L40.0,127.39L44.0,127.86L48.0,128.34L52.0,128.82L56.0,129.30L60.0,129.79L64.0,130.30L68.0,130.82L72.0,131.36L76.0,131.91L80.0,132.47L84.0,133.03L88.0,133.60L92.0,134.17L96.0,134.74L100.0,135.31L104.0,135.87L108.0,136.43L112.0,136.97L116.0,137.50L120.0,138.02L124.0,138.53L128.0,139.02L132.0,139.51L136.0,139.99L140.0,140.46L144.0,140.92L148.0,141.37L152.0,141.82L156.0,142.25L160.0,142.68L164.0,143.09L168.0,143.50L172.0,143.91L176.0,144.31L180.0,144.71L184.0,145.10L188.0,145.48L192.0,145.83L196.0,146.15L200.0,146.45L204.0,146.70L208.0,146.91L212.0,147.08L216.0,147.22L220.0,147.33L224.0,147.42L228.0,147.50L232.0,147.56L236.0,147.60L240.0,147.62L244.0,147.64L248.0,147.64L252.0,147.63L256.0,147.61L260.0,147.59L264.0,147.56L268.0,147.53L272.0,147.50L276.0,147.47L280.0,147.43L284.0,147.39L288.0,147.34L292.0,147.30L296.0,147.24L300.0,147.19L304.0,147.13L308.0,147.06L312.0,146.99L316.0,146.92L320.0,146.84L324.0,146.75L328.0,146.66L332.0,146.55L336.0,146.43L340.0,146.31L344.0,146.18L348.0,146.04L352.0,145.90L356.0,145.75L360.0,145.60L364.0,145.45L368.0,145.30L372.0,145.15L376.0,145.00L380.0,144.85L384.0,144.70L388.0,144.54L392.0,144.39L396.0,144.25L400.0,144.12L404.0,144.01L408.0,143.91L412.0,143.83L416.0,143.78L420.0,143.75L424.0,143.75L428.0,143.79L432.0,143.85L436.0,143.93L440.0,144.04L444.0,144.18L448.0,144.33L452.0,144.51L456.0,144.71L460.0,144.93L464.0,145.16L468.0,145.41L472.0,145.68L476.0,145.96L480.0,146.25L484.0,146.56L488.0,146.90L492.0,147.25L496.0,147.62L500.0,148.01L504.0,148.41L508.0,148.81L512.0,149.22L516.0,149.64L520.0,150.05L524.0,150.46L528.0,150.86L532.0,151.25L536.0,151.63L540.0,152.01L544.0,152.38L548.0,152.75L552.0,153.12L556.0,153.49L560.0,153.87L564.0,154.24L568.0,154.63L572.0,155.02L576.0,155.42L580.0,155.83L584.0,156.25L588.0,156.69L592.0,157.15L596.0,157.62L600.0,158.09L604.0,158.57L608.0,159.04L612.0,159.50L616.0,159.94L620.0,160.35L624.0,160.74L628.0,161.09L632.0,161.40L636.0,161.68L640.0,161.94L644.0,162.17L648.0,162.38L652.0,162.58L656.0,162.75L660.0,162.91L664.0,163.05L668.0,163.19L672.0,163.31L676.0,163.43L680.0,163.54L684.0,163.64L688.0,163.75L692.0,163.86L696.0,163.96L700.0,164.07L704.0,164.17L708.0,164.27L712.0,164.37L716.0,164.47L720.0,164.57L724.0,164.66L728.0,164.75L732.0,164.84L736.0,164.92L740.0,165.00L744.0,165.07L748.0,165.14L752.0,165.21L756.0,165.27L760.0,165.33L764.0,165.38L768.0,165.43L772.0,165.46L776.0,165.49L780.0,165.51L784.0,165.52L788.0,165.51L792.0,165.50L796.0,165.47L800.0,165.43L804.0,165.38L808.0,165.31L812.0,165.24L816.0,165.15L820.0,165.06L824.0,164.95L828.0,164.85L832.0,164.74L836.0,164.62L840.0,164.50L840.0,164.50L836.0,165.50L832.0,166.33L828.0,166.74L824.0,167.16L820.0,167.57L816.0,167.99L812.0,168.41L808.0,168.82L804.0,169.24L800.0,169.66L796.0,170.08L792.0,170.50L788.0,170.92L784.0,171.35L780.0,171.77L776.0,172.20L772.0,172.63L768.0,173.06L764.0,173.49L760.0,173.91L756.0,174.34L752.0,174.76L748.0,175.18L744.0,175.59L740.0,176.00L736.0,176.41L732.0,176.83L728.0,177.25L724.0,177.66L720.0,178.07L716.0,178.46L712.0,178.84L708.0,179.20L704.0,179.53L700.0,179.83L696.0,180.09L692.0,180.32L688.0,180.50L684.0,180.65L680.0,180.77L676.0,180.88L672.0,180.96L668.0,181.03L664.0,181.07L660.0,181.10L656.0,181.11L652.0,181.10L648.0,181.07L644.0,181.03L640.0,180.97L636.0,180.89L632.0,180.80L628.0,180.69L624.0,180.55L620.0,180.38L616.0,180.18L612.0,179.96L608.0,179.71L604.0,179.45L600.0,179.18L596.0,178.89L592.0,178.60L588.0,178.30L584.0,178.00L580.0,177.70L576.0,177.39L572.0,177.07L568.0,176.74L564.0,176.40L560.0,176.06L556.0,175.71L552.0,175.35L548.0,174.99L544.0,174.63L540.0,174.25L536.0,173.88L532.0,173.50L528.0,173.11L524.0,172.72L520.0,172.32L516.0,171.91L512.0,171.51L508.0,171.10L504.0,170.70L500.0,170.30L496.0,169.91L492.0,169.54L488.0,169.18L484.0,168.83L480.0,168.50L476.0,168.19L472.0,167.88L468.0,167.58L464.0,167.30L460.0,167.03L456.0,166.77L452.0,166.54L448.0,166.32L444.0,166.12L440.0,165.95L436.0,165.80L432.0,165.68L428.0,165.59L424.0,165.53L420.0,165.50L416.0,165.50L412.0,165.53L408.0,165.59L404.0,165.66L400.0,165.76L396.0,165.86L392.0,165.98L388.0,166.11L384.0,166.24L380.0,166.37L376.0,166.50L372.0,166.63L368.0,166.76L364.0,166.89L360.0,167.02L356.0,167.15L352.0,167.27L348.0,167.40L344.0,167.51L340.0,167.63L336.0,167.73L332.0,167.83L328.0,167.92L324.0,168.00L320.0,168.07L316.0,168.14L312.0,168.20L308.0,168.26L304.0,168.31L300.0,168.36L296.0,168.40L292.0,168.44L288.0,168.46L284.0,168.48L280.0,168.50L276.0,168.50L272.0,168.50L268.0,168.49L264.0,168.46L260.0,168.43L256.0,168.38L252.0,168.32L248.0,168.24L244.0,168.15L240.0,168.04L236.0,167.92L232.0,167.79L228.0,167.64L224.0,167.47L220.0,167.29L216.0,167.09L212.0,166.87L208.0,166.63L204.0,166.36L200.0,166.06L196.0,165.73L192.0,165.38L188.0,165.01L184.0,164.63L180.0,164.23L176.0,163.83L172.0,163.41L168.0,163.00L164.0,162.58L160.0,162.15L156.0,161.72L152.0,161.27L148.0,160.81L144.0,160.33L140.0,159.84L136.0,159.34L132.0,158.81L128.0,158.27L124.0,157.70L120.0,157.11L116.0,156.50L112.0,155.86L108.0,155.19L104.0,154.49L100.0,153.78L96.0,153.05L92.0,152.32L88.0,151.60L84.0,150.88L80.0,150.19L76.0,149.51L72.0,148.87L68.0,148.26L64.0,147.70L60.0,147.19L56.0,146.71L52.0,146.26L48.0,145.82L44.0,145.38L40.0,144.93L36.0,144.46L32.0,143.97L28.0,143.46L24.0,142.93L20.0,142.40L16.0,141.85L12.0,141.30Z"/>
<path fill="#c6dbef" d="M12.0,140.30L16.0,140.85L20.0,141.40L24.0,141.93L28.0,142.46L32.0,142.97L36.0,143.46L40.0,143.93L44.0,144.38L48.0,144.82L52.0,145.26L56.0,145.71L60.0,146.19L64.0,146.70L68.0,147.26L72.0,147.87L76.0,148.51L80.0,149.19L84.0,149.88L88.0,150.60L92.0,151.32L96.0,152.05L100.0,152.78L104.0,153.49L108.0,154.19L112.0,154.86L116.0,155.50L120.0,156.11L124.0,156.70L128.0,157.27L132.0,157.81L136.0,158.34L140.0,158.84L144.0,159.33L148.0,159.81L152.0,160.27L156.0,160.72L160.0,161.15L164.0,161.58L168.0,162.00L172.0,162.41L176.0,162.83L180.0,163.23L184.0,163.63L188.0,164.01L192.0,164.38L196.0,164.73L200.0,165.06L204.0,165.36L208.0,165.63L212.0,165.87L216.0,166.09L220.0,166.29L224.0,166.47L228.0,166.64L232.0,166.79L236.0,166.92L240.0,167.04L244.0,167.15L248.0,167.24L252.0,167.32L256.0,167.38L260.0,167.43L264.0,167.46L268.0,167.49L272.0,167.50L276.0,167.50L280.0,167.50L284.0,167.48L288.0,167.46L292.0,167.44L296.0,167.40L300.0,167.36L304.0,167.31L308.0,167.26L312.0,167.20L316.0,167.14L320.0,167.07L324.0,167.00L328.0,166.92L332.0,166.83L336.0,166.73L340.0,166.63L344.0,166.51L348.0,166.40L352.0,166.27L356.0,166.15L360.0,166.02L364.0,165.89L368.0,165.76L372.0,165.63L376.0,165.50L380.0,165.37L384.0,165.24L388.0,165.11L392.0,164.98L396.0,164.86L400.0,164.76L404.0,164.66L408.0,164.59L412.0,164.53L416.0,164.50L420.0,164.50L424.0,164.53L428.0,164.59L432.0,164.68L436.0,164.80L440.0,164.95L444.0,165.12L448.0,165.32L452.0,165.54L456.0,165.77L460.0,166.03L464.0,166.30L468.0,166.58L472.0,166.88L476.0,167.19L480.0,167.50L484.0,167.83L488.0,168.18L492.0,168.54L496.0,168.91L500.0,169.30L504.0,169.70L508.0,170.10L512.0,170.51L516.0,170.91L520.0,171.32L524.0,171.72L528.0,172.11L532.0,172.50L536.0,172.88L540.0,173.25L544.0,173.63L548.0,173.99L552.0,174.35L556.0,174.71L560.0,175.06L564.0,175.40L568.0,175.74L572.0,176.07L576.0,176.39L580.0,176.70L584.0,177.00L588.0,177.30L592.0,177.60L596.0,177.89L600.0,178.18L604.0,178.45L608.0,178.71L612.0,178.96L616.0,179.18L620.0,179.38L624.0,179.55L628.0,179.69L632.0,179.80L636.0,179.89L640.0,179.97L644.0,180.03L648.0,180.07L652.0,180.10L656.0,180.11L660.0,180.10L664.0,180.07L668.0,180.03L672.0,179.96L676.0,179.88L680.0,179.77L684.0,179.65L688.0,179.50L692.0,179.32L696.0,179.09L700.0,178.83L704.0,178.53L708.0,178.20L712.0,177.84L716.0,177.46L720.0,177.07L724.0,176.66L728.0,176.25L732.0,175.83L736.0,175.41L740.0,175.00L744.0,174.59L748.0,174.18L752.0,173.76L756.0,173.34L760.0,172.91L764.0,172.49L768.0,172.06L772.0,171.63L776.0,171.20L780.0,170.77L784.0,170.35L788.0,169.92L792.0,169.50L796.0,169.08L800.0,168.66L804.0,168.24L808.0,167.82L812.0,167.41L816.0,166.99L820.0,166.57L824.0,166.16L828.0,165.74L832.0,165.33L836.0,164.91L840.0,164.50L840.0,183.50L836.0,184.10L832.0,184.69L828.0,185.29L824.0,185.88L820.0,186.47L816.0,187.05L812.0,187.64L808.0,188.22L804.0,188.79L800.0,189.37L796.0,189.94L792.0,190.50L788.0,191.06L784.0,191.62L780.0,192.18L776.0,192.73L772.0,193.28L768.0,193.82L764.0,194.35L760.0,194.86L756.0,195.37L752.0,195.86L748.0,196.34L744.0,196.81L740.0,197.25L736.0,197.68L732.0,198.11L728.0,198.52L724.0,198.92L720.0,199.31L716.0,199.68L712.0,200.03L708.0,200.36L704.0,200.67L700.0,200.95L696.0,201.20L692.0,201.42L688.0,201.60L684.0,201.76L680.0,201.90L676.0,202.02L672.0,202.13L668.0,202.22L664.0,202.30L660.0,202.35L656.0,202.39L652.0,202.42L648.0,202.42L644.0,202.41L640.0,202.39L636.0,202.35L632.0,202.29L628.0,202.21L624.0,202.10L620.0,201.96L616.0,201.79L612.0,201.60L608.0,201.39L604.0,201.15L600.0,200.90L596.0,200.63L592.0,200.35L588.0,200.05L584.0,199.75L580.0,199.43L576.0,199.10L572.0,198.75L568.0,198.38L564.0,198.00L560.0,197.61L556.0,197.21L552.0,196.80L548.0,196.39L544.0,195.98L540.0,195.57L536.0,195.16L532.0,194.75L528.0,194.34L524.0,193.94L520.0,193.53L516.0,193.12L512.0,192.72L508.0,192.32L504.0,191.92L500.0,191.53L496.0,191.15L492.0,190.78L488.0,190.42L484.0,190.08L480.0,189.75L476.0,189.43L472.0,189.11L468.0,188.81L464.0,188.51L460.0,188.22L456.0,187.95L452.0,187.69L448.0,187.45L444.0,187.24L440.0,187.04L436.0,186.87L432.0,186.73L428.0,186.62L424.0,186.54L420.0,186.50L416.0,186.49L412.0,186.50L408.0,186.54L404.0,186.59L400.0,186.66L396.0,186.75L392.0,186.84L388.0,186.94L384.0,187.05L380.0,187.15L376.0,187.25L372.0,187.35L368.0,187.44L364.0,187.54L360.0,187.63L356.0,187.72L352.0,187.80L348.0,187.88L344.0,187.96L340.0,188.03L336.0,188.09L332.0,188.15L328.0,188.21L324.0,188.25L320.0,188.29L316.0,188.32L312.0,188.36L308.0,188.38L304.0,188.41L300.0,188.43L296.0,188.45L292.0,188.46L288.0,188.48L284.0,188.49L280.0,188.49L276.0,188.50L272.0,188.50L268.0,188.50L264.0,188.49L260.0,188.46L256.0,188.43L252.0,188.39L248.0,188.33L244.0,188.25L240.0,188.16L236.0,188.04L232.0,187.91L228.0,187.76L224.0,187.58L220.0,187.38L216.0,187.15L212.0,186.89L208.0,186.60L204.0,186.26L200.0,185.87L196.0,185.44L192.0,184.97L188.0,184.47L184.0,183.95L180.0,183.41L176.0,182.86L172.0,182.30L168.0,181.75L164.0,181.20L160.0,180.63L156.0,180.06L152.0,179.49L148.0,178.90L144.0,178.31L140.0,177.72L136.0,177.11L132.0,176.50L128.0,175.89L124.0,175.26L120.0,174.63L116.0,174.00L112.0,173.36L108.0,172.71L104.0,172.05L100.0,171.39L96.0,170.72L92.0,170.06L88.0,169.39L84.0,168.72L80.0,168.06L76.0,167.41L72.0,166.76L68.0,166.13L64.0,165.50L60.0,164.89L56.0,164.28L52.0,163.69L48.0,163.09L44.0,162.48L40.0,161.86L36.0,161.23L32.0,160.58L28.0,159.92L24.0,159.25L20.0,158.58L16.0,157.89L12.0,157.20Z"/>
<path fill="#9ecae1" d="M12.0,156.20L16.0,156.89L20.0,157.58L24.0,158.25L28.0,158.92L32.0,159.58L36.0,160.23L40.0,160.86L44.0,161.48L48.0,162.09L52.0,162.69L56.0,163.28L60.0,163.89L64.0,164.50L68.0,165.13L72.0,165.76L76.0,166.41L80.0,167.06L84.0,167.72L88.0,168.39L92.0,169.06L96.0,169.72L100.0,170.39L104.0,171.05L108.0,171.71L112.0,172.36L116.0,173.00L120.0,173.63L124.0,174.26L128.0,174.89L132.0,175.50L136.0,176.11L140.0,176.72L144.0,177.31L148.0,177.90L152.0,178.49L156.0,179.06L160.0,179.63L164.0,180.20L168.0,180.75L172.0,181.30L176.0,181.86L180.0,182.41L184.0,182.95L188.0,183.47L192.0,183.97L196.0,184.44L200.0,184.87L204.0,185.26L208.0,185.60L212.0,185.89L216.0,186.15L220.0,186.38L224.0,186.58L228.0,186.76L232.0,186.91L236.0,187.04L240.0,187.16L244.0,187.25L248.0,187.33L252.0,187.39L256.0,187.43L260.0,187.46L264.0,187.49L268.0,187.50L272.0,187.50L276.0,187.50L280.0,187.49L284.0,187.49L288.0,187.48L292.0,187.46L296.0,187.45L300.0,187.43L304.0,187.41L308.0,187.38L312.0,187.36L316.0,187.32L320.0,187.29L324.0,187.25L328.0,187.21L332.0,187.15L336.0,187.09L340.0,187.03L344.0,186.96L348.0,186.88L352.0,186.80L356.0,186.72L360.0,186.63L364.0,186.54L368.0,186.44L372.0,186.35L376.0,186.25L380.0,186.15L384.0,186.05L388.0,185.94L392.0,185.84L396.0,185.75L400.0,185.66L404.0,185.59L408.0,185.54L412.0,185.50L416.0,185.49L420.0,185.50L424.0,185.54L428.0,185.62L432.0,185.73L436.0,185.87L440.0,186.04L444.0,186.24L448.0,186.45L452.0,186.69L456.0,186.95L460.0,187.22L464.0,187.51L468.0,187.81L472.0,188.11L476.0,188.43L480.0,188.75L484.0,189.08L488.0,189.42L492.0,189.78L496.0,190.15L500.0,190.53L504.0,190.92L508.0,191.32L512.0,191.72L516.0,192.12L520.0,192.53L524.0,192.94L528.0,193.34L532.0,193.75L536.0,194.16L540.0,194.57L544.0,194.98L548.0,195.39L552.0,195.80L556.0,196.21L560.0,196.61L564.0,197.00L568.0,197.38L572.0,197.75L576.0,198.10L580.0,198.43L584.0,198.75L588.0,199.05L592.0,199.35L596.0,199.63L600.0,199.90L604.0,200.15L608.0,200.39L612.0,200.60L616.0,200.79L620.0,200.96L624.0,201.10L628.0,201.21L632.0,201.29L636.0,201.35L640.0,201.39L644.0,201.41L648.0,201.42L652.0,201.42L656.0,201.39L660.0,201.35L664.0,201.30L668.0,201.22L672.0,201.13L676.0,201.02L680.0,200.90L684.0,200.76L688.0,200.60L692.0,200.42L696.0,200.20L700.0,199.95L704.0,199.67L708.0,199.36L712.0,199.03L716.0,198.68L720.0,198.31L724.0,197.92L728.0,197.52L732.0,197.11L736.0,196.68L740.0,196.25L744.0,195.81L748.0,195.34L752.0,194.86L756.0,194.37L760.0,193.86L764.0,193.35L768.0,192.82L772.0,192.28L776.0,191.73L780.0,191.18L784.0,190.62L788.0,190.06L792.0,189.50L796.0,188.94L800.0,188.37L804.0,187.79L808.0,187.22L812.0,186.64L816.0,186.05L820.0,185.47L824.0,184.88L828.0,184.29L832.0,183.69L836.0,183.10L840.0,182.50L840.0,201.00L836.0,201.70L832.0,202.40L828.0,203.10L824.0,203.79L820.0,204.47L816.0,205.15L812.0,205.82L808.0,206.48L804.0,207.12L800.0,207.76L796.0,208.39L792.0,209.00L788.0,209.60L784.0,210.19L780.0,210.76L776.0,211.33L772.0,211.88L768.0,212.43L764.0,212.96L760.0,213.49L756.0,214.01L752.0,214.52L748.0,215.02L744.0,215.51L740.0,216.00L736.0,216.48L732.0,216.97L728.0,217.45L724.0,217.92L720.0,218.39L716.0,218.85L712.0,219.29L708.0,219.71L704.0,220.12L700.0,220.50L696.0,220.86L692.0,221.20L688.0,221.50L684.0,221.78L680.0,222.05L676.0,222.29L672.0,222.52L668.0,222.73L664.0,222.92L660.0,223.08L656.0,223.23L652.0,223.34L648.0,223.44L644.0,223.50L640.0,223.54L636.0,223.55L632.0,223.52L628.0,223.47L624.0,223.37L620.0,223.24L616.0,223.07L612.0,222.87L608.0,222.65L604.0,222.40L600.0,222.14L596.0,221.87L592.0,221.58L588.0,221.29L584.0,221.00L580.0,220.70L576.0,220.40L572.0,220.09L568.0,219.77L564.0,219.43L560.0,219.10L556.0,218.75L552.0,218.39L548.0,218.03L544.0,217.66L540.0,217.28L536.0,216.89L532.0,216.50L528.0,216.09L524.0,215.68L520.0,215.25L516.0,214.81L512.0,214.37L508.0,213.92L504.0,213.48L500.0,213.04L496.0,212.61L492.0,212.18L488.0,211.77L484.0,211.38L480.0,211.00L476.0,210.64L472.0,210.28L468.0,209.93L464.0,209.59L460.0,209.27L456.0,208.96L452.0,208.67L448.0,208.40L444.0,208.15L440.0,207.93L436.0,207.73L432.0,207.56L428.0,207.42L424.0,207.32L420.0,207.25L416.0,207.21L412.0,207.19L408.0,207.19L404.0,207.21L400.0,207.24L396.0,207.28L392.0,207.33L388.0,207.39L384.0,207.46L380.0,207.53L376.0,207.60L372.0,207.67L368.0,207.75L364.0,207.82L360.0,207.90L356.0,207.98L352.0,208.06L348.0,208.13L344.0,208.21L340.0,208.27L336.0,208.34L332.0,208.40L328.0,208.45L324.0,208.50L320.0,208.54L316.0,208.58L312.0,208.61L308.0,208.64L304.0,208.67L300.0,208.70L296.0,208.72L292.0,208.73L288.0,208.74L284.0,208.75L280.0,208.76L276.0,208.75L272.0,208.75L268.0,208.74L264.0,208.71L260.0,208.67L256.0,208.62L252.0,208.55L248.0,208.47L244.0,208.36L240.0,208.23L236.0,208.09L232.0,207.91L228.0,207.72L224.0,207.50L220.0,207.25L216.0,206.97L212.0,206.67L208.0,206.32L204.0,205.93L200.0,205.48L196.0,204.98L192.0,204.44L188.0,203.88L184.0,203.28L180.0,202.66L176.0,202.03L172.0,201.39L168.0,200.75L164.0,200.10L160.0,199.45L156.0,198.78L152.0,198.10L148.0,197.41L144.0,196.72L140.0,196.02L136.0,195.31L132.0,194.60L128.0,193.89L124.0,193.18L120.0,192.46L116.0,191.75L112.0,191.04L108.0,190.32L104.0,189.60L100.0,188.88L96.0,188.16L92.0,187.45L88.0,186.73L84.0,186.02L80.0,185.30L76.0,184.60L72.0,183.89L68.0,183.19L64.0,182.50L60.0,181.81L56.0,181.13L52.0,180.45L48.0,179.77L44.0,179.07L40.0,178.36L36.0,177.63L32.0,176.89L28.0,176.13L24.0,175.36L20.0,174.58L16.0,173.79L12.0,173.00Z"/>
<path fill="#6baed6" d="M12.0,172.00L16.0,172.79L20.0,173.58L24.0,174.36L28.0,175.13L32.0,175.89L36.0,176.63L40.0,177.36L44.0,178.07L48.0,178.77L52.0,179.45L56.0,180.13L60.0,180.81L64.0,181.50L68.0,182.19L72.0,182.89L76.0,183.60L80.0,184.30L84.0,185.02L88.0,185.73L92.0,186.45L96.0,187.16L100.0,187.88L104.0,188.60L108.0,189.32L112.0,190.04L116.0,190.75L120.0,191.46L124.0,192.18L128.0,192.89L132.0,193.60L136.0,194.31L140.0,195.02L144.0,195.72L148.0,196.41L152.0,197.10L156.0,197.78L160.0,198.45L164.0,199.10L168.0,199.75L172.0,200.39L176.0,201.03L180.0,201.66L184.0,202.28L188.0,202.88L192.0,203.44L196.0,203.98L200.0,204.48L204.0,204.93L208.0,205.32L212.0,205.67L216.0,205.97L220.0,206.25L224.0,206.50L228.0,206.72L232.0,206.91L236.0,207.09L240.0,207.23L244.0,207.36L248.0,207.47L252.0,207.55L256.0,207.62L260.0,207.67L264.0,207.71L268.0,207.74L272.0,207.75L276.0,207.75L280.0,207.76L284.0,207.75L288.0,207.74L292.0,207.73L296.0,207.72L300.0,207.70L304.0,207.67L308.0,207.64L312.0,207.61L316.0,207.58L320.0,207.54L324.0,207.50L328.0,207.45L332.0,207.40L336.0,207.34L340.0,207.27L344.0,207.21L348.0,207.13L352.0,207.06L356.0,206.98L360.0,206.90L364.0,206.82L368.0,206.75L372.0,206.67L376.0,206.60L380.0,206.53L384.0,206.46L388.0,206.39L392.0,206.33L396.0,206.28L400.0,206.24L404.0,206.21L408.0,206.19L412.0,206.19L416.0,206.21L420.0,206.25L424.0,206.32L428.0,206.42L432.0,206.56L436.0,206.73L440.0,206.93L444.0,207.15L448.0,207.40L452.0,207.67L456.0,207.96L460.0,208.27L464.0,208.59L468.0,208.93L472.0,209.28L476.0,209.64L480.0,210.00L484.0,210.38L488.0,210.77L492.0,211.18L496.0,211.61L500.0,212.04L504.0,212.48L508.0,212.92L512.0,213.37L516.0,213.81L520.0,214.25L524.0,214.68L528.0,215.09L532.0,215.50L536.0,215.89L540.0,216.28L544.0,216.66L548.0,217.03L552.0,217.39L556.0,217.75L560.0,218.10L564.0,218.43L568.0,218.77L572.0,219.09L576.0,219.40L580.0,219.70L584.0,220.00L588.0,220.29L592.0,220.58L596.0,220.87L600.0,221.14L604.0,221.40L608.0,221.65L612.0,221.87L616.0,222.07L620.0,222.24L624.0,222.37L628.0,222.47L632.0,222.52L636.0,222.55L640.0,222.54L644.0,222.50L648.0,222.44L652.0,222.34L656.0,222.23L660.0,222.08L664.0,221.92L668.0,221.73L672.0,221.52L676.0,221.29L680.0,221.05L684.0,220.78L688.0,220.50L692.0,220.20L696.0,219.86L700.0,219.50L704.0,219.12L708.0,218.71L712.0,218.29L716.0,217.85L720.0,217.39L724.0,216.92L728.0,216.45L732.0,215.97L736.0,215.48L740.0,215.00L744.0,214.51L748.0,214.02L752.0,213.52L756.0,213.01L760.0,212.49L764.0,211.96L768.0,211.43L772.0,210.88L776.0,210.33L780.0,209.76L784.0,209.19L788.0,208.60L792.0,208.00L796.0,207.39L800.0,206.76L804.0,206.12L808.0,205.48L812.0,204.82L816.0,204.15L820.0,203.47L824.0,202.79L828.0,202.10L832.0,201.40L836.0,200.70L840.0,200.00L840.0,218.50L836.0,219.34L832.0,220.18L828.0,221.01L824.0,221.83L820.0,222.65L816.0,223.45L812.0,224.25L808.0,225.03L804.0,225.80L800.0,226.55L796.0,227.28L792.0,228.00L788.0,228.70L784.0,229.38L780.0,230.05L776.0,230.70L772.0,231.34L768.0,231.96L764.0,232.57L760.0,233.17L756.0,233.76L752.0,234.33L748.0,234.90L744.0,235.45L740.0,236.00L736.0,236.54L732.0,237.08L728.0,237.61L724.0,238.13L720.0,238.64L716.0,239.15L712.0,239.64L708.0,240.12L704.0,240.58L700.0,241.03L696.0,241.46L692.0,241.86L688.0,242.25L684.0,242.62L680.0,242.98L676.0,243.33L672.0,243.66L668.0,243.98L664.0,244.27L660.0,244.54L656.0,244.78L652.0,244.99L648.0,245.17L644.0,245.31L640.0,245.42L636.0,245.48L632.0,245.51L628.0,245.48L624.0,245.41L620.0,245.29L616.0,245.13L612.0,244.93L608.0,244.71L604.0,244.46L600.0,244.19L596.0,243.90L592.0,243.60L588.0,243.30L584.0,243.00L580.0,242.70L576.0,242.38L572.0,242.06L568.0,241.74L564.0,241.40L560.0,241.06L556.0,240.72L552.0,240.36L548.0,240.00L544.0,239.64L540.0,239.26L536.0,238.88L532.0,238.50L528.0,238.11L524.0,237.70L520.0,237.29L516.0,236.86L512.0,236.44L508.0,236.00L504.0,235.57L500.0,235.13L496.0,234.70L492.0,234.26L488.0,233.84L484.0,233.41L480.0,233.00L476.0,232.59L472.0,232.17L468.0,231.76L464.0,231.35L460.0,230.95L456.0,230.56L452.0,230.19L448.0,229.83L444.0,229.50L440.0,229.20L436.0,228.93L432.0,228.70L428.0,228.51L424.0,228.35L420.0,228.25L416.0,228.18L412.0,228.15L408.0,228.13L404.0,228.13L400.0,228.16L396.0,228.19L392.0,228.24L388.0,228.30L384.0,228.37L380.0,228.43L376.0,228.50L372.0,228.57L368.0,228.64L364.0,228.71L360.0,228.78L356.0,228.85L352.0,228.91L348.0,228.98L344.0,229.04L340.0,229.09L336.0,229.14L332.0,229.19L328.0,229.22L324.0,229.25L320.0,229.27L316.0,229.29L312.0,229.30L308.0,229.32L304.0,229.32L300.0,229.33L296.0,229.33L292.0,229.33L288.0,229.32L284.0,229.31L280.0,229.29L276.0,229.27L272.0,229.25L268.0,229.21L264.0,229.16L260.0,229.09L256.0,229.00L252.0,228.88L248.0,228.74L244.0,228.58L240.0,228.39L236.0,228.18L232.0,227.93L228.0,227.66L224.0,227.35L220.0,227.01L216.0,226.63L212.0,226.22L208.0,225.77L204.0,225.25L200.0,224.67L196.0,224.04L192.0,223.37L188.0,222.67L184.0,221.94L180.0,221.20L176.0,220.46L172.0,219.72L168.0,219.00L164.0,218.29L160.0,217.59L156.0,216.88L152.0,216.19L148.0,215.49L144.0,214.79L140.0,214.09L136.0,213.38L132.0,212.67L128.0,211.96L124.0,211.23L120.0,210.50L116.0,209.75L112.0,208.99L108.0,208.22L104.0,207.44L100.0,206.65L96.0,205.85L92.0,205.05L88.0,204.25L84.0,203.44L80.0,202.64L76.0,201.85L72.0,201.05L68.0,200.27L64.0,199.50L60.0,198.74L56.0,197.99L52.0,197.24L48.0,196.49L44.0,195.73L40.0,194.95L36.0,194.15L32.0,193.32L28.0,192.48L24.0,191.63L20.0,190.76L16.0,189.88L12.0,189.00Z"/>
<path fill="#3182bd" d="M12.0,188.00L16.0,188.88L20.0,189.76L24.0,190.63L28.0,191.48L32.0,192.32L36.0,193.15L40.0,193.95L44.0,194.73L48.0,195.49L52.0,196.24L56.0,196.99L60.0,197.74L64.0,198.50L68.0,199.27L72.0,200.05L76.0,200.85L80.0,201.64L84.0,202.44L88.0,203.25L92.0,204.05L96.0,204.85L100.0,205.65L104.0,206.44L108.0,207.22L112.0,207.99L116.0,208.75L120.0,209.50L124.0,210.23L128.0,210.96L132.0,211.67L136.0,212.38L140.0,213.09L144.0,213.79L148.0,214.49L152.0,215.19L156.0,215.88L160.0,216.59L164.0,217.29L168.0,218.00L172.0,218.72L176.0,219.46L180.0,220.20L184.0,220.94L188.0,221.67L192.0,222.37L196.0,223.04L200.0,223.67L204.0,224.25L208.0,224.77L212.0,225.22L216.0,225.63L220.0,226.01L224.0,226.35L228.0,226.66L232.0,226.93L236.0,227.18L240.0,227.39L244.0,227.58L248.0,227.74L252.0,227.88L256.0,228.00L260.0,228.09L264.0,228.16L268.0,228.21L272.0,228.25L276.0,228.27L280.0,228.29L284.0,228.31L288.0,228.32L292.0,228.33L296.0,228.33L300.0,228.33L304.0,228.32L308.0,228.32L312.0,228.30L316.0,228.29L320.0,228.27L324.0,228.25L328.0,228.22L332.0,228.19L336.0,228.14L340.0,228.09L344.0,228.04L348.0,227.98L352.0,227.91L356.0,227.85L360.0,227.78L364.0,227.71L368.0,227.64L372.0,227.57L376.0,227.50L380.0,227.43L384.0,227.37L388.0,227.30L392.0,227.24L396.0,227.19L400.0,227.16L404.0,227.13L408.0,227.13L412.0,227.15L416.0,227.18L420.0,227.25L424.0,227.35L428.0,227.51L432.0,227.70L436.0,227.93L440.0,228.20L444.0,228.50L448.0,228.83L452.0,229.19L456.0,229.56L460.0,229.95L464.0,230.35L468.0,230.76L472.0,231.17L476.0,231.59L480.0,232.00L484.0,232.41L488.0,232.84L492.0,233.26L496.0,233.70L500.0,234.13L504.0,234.57L508.0,235.00L512.0,235.44L516.0,235.86L520.0,236.29L524.0,236.70L528.0,237.11L532.0,237.50L536.0,237.88L540.0,238.26L544.0,238.64L548.0,239.00L552.0,239.36L556.0,239.72L560.0,240.06L564.0,240.40L568.0,240.74L572.0,241.06L576.0,241.38L580.0,241.70L584.0,242.00L588.0,242.30L592.0,242.60L596.0,242.90L600.0,243.19L604.0,243.46L608.0,243.71L612.0,243.93L616.0,244.13L620.0,244.29L624.0,244.41L628.0,244.48L632.0,244.51L636.0,244.48L640.0,244.42L644.0,244.31L648.0,244.17L652.0,243.99L656.0,243.78L660.0,243.54L664.0,243.27L668.0,242.98L672.0,242.66L676.0,242.33L680.0,241.98L684.0,241.62L688.0,241.25L692.0,240.86L696.0,240.46L700.0,240.03L704.0,239.58L708.0,239.12L712.0,238.64L716.0,238.15L720.0,237.64L724.0,237.13L728.0,236.61L732.0,236.08L736.0,235.54L740.0,235.00L744.0,234.45L748.0,233.90L752.0,233.33L756.0,232.76L760.0,232.17L764.0,231.57L768.0,230.96L772.0,230.34L776.0,229.70L780.0,229.05L784.0,228.38L788.0,227.70L792.0,227.00L796.0,226.28L800.0,225.55L804.0,224.80L808.0,224.03L812.0,223.25L816.0,222.45L820.0,221.65L824.0,220.83L828.0,220.01L832.0,219.18L836.0,218.34L840.0,217.50L840.0,235.50L836.0,236.57L832.0,237.64L828.0,238.70L824.0,239.74L820.0,240.78L816.0,241.80L812.0,242.80L808.0,243.78L804.0,244.75L800.0,245.69L796.0,246.61L792.0,247.50L788.0,248.37L784.0,249.21L780.0,250.04L776.0,250.84L772.0,251.62L768.0,252.38L764.0,253.11L760.0,253.82L756.0,254.50L752.0,255.16L748.0,255.80L744.0,256.41L740.0,257.00L736.0,257.57L732.0,258.11L728.0,258.64L724.0,259.16L720.0,259.65L716.0,260.13L712.0,260.59L708.0,261.04L704.0,261.46L700.0,261.87L696.0,262.27L692.0,262.64L688.0,263.00L684.0,263.35L680.0,263.69L676.0,264.02L672.0,264.34L668.0,264.64L664.0,264.93L660.0,265.19L656.0,265.43L652.0,265.65L648.0,265.84L644.0,265.99L640.0,266.11L636.0,266.20L632.0,266.24L628.0,266.25L624.0,266.21L620.0,266.13L616.0,266.02L612.0,265.88L608.0,265.70L604.0,265.51L600.0,265.29L596.0,265.05L592.0,264.79L588.0,264.53L584.0,264.25L580.0,263.96L576.0,263.65L572.0,263.33L568.0,262.99L564.0,262.64L560.0,262.28L556.0,261.90L552.0,261.52L548.0,261.12L544.0,260.72L540.0,260.32L536.0,259.91L532.0,259.50L528.0,259.08L524.0,258.66L520.0,258.22L516.0,257.79L512.0,257.34L508.0,256.89L504.0,256.44L500.0,255.99L496.0,255.54L492.0,255.08L488.0,254.64L484.0,254.19L480.0,253.75L476.0,253.31L472.0,252.86L468.0,252.41L464.0,251.96L460.0,251.52L456.0,251.09L452.0,250.68L448.0,250.28L444.0,249.92L440.0,249.58L436.0,249.28L432.0,249.01L428.0,248.79L424.0,248.62L420.0,248.50L416.0,248.42L412.0,248.38L408.0,248.36L404.0,248.36L400.0,248.38L396.0,248.42L392.0,248.47L388.0,248.54L384.0,248.60L380.0,248.68L376.0,248.75L372.0,248.82L368.0,248.90L364.0,248.97L360.0,249.04L356.0,249.12L352.0,249.18L348.0,249.25L344.0,249.31L340.0,249.36L336.0,249.41L332.0,249.45L328.0,249.48L324.0,249.50L320.0,249.51L316.0,249.52L312.0,249.52L308.0,249.52L304.0,249.51L300.0,249.49L296.0,249.47L292.0,249.45L288.0,249.42L284.0,249.38L280.0,249.34L276.0,249.30L272.0,249.25L268.0,249.19L264.0,249.12L260.0,249.03L256.0,248.92L252.0,248.79L248.0,248.65L244.0,248.48L240.0,248.29L236.0,248.07L232.0,247.83L228.0,247.57L224.0,247.27L220.0,246.95L216.0,246.59L212.0,246.21L208.0,245.78L204.0,245.30L200.0,244.77L196.0,244.20L192.0,243.58L188.0,242.94L184.0,242.27L180.0,241.58L176.0,240.89L172.0,240.19L168.0,239.50L164.0,238.81L160.0,238.12L156.0,237.42L152.0,236.72L148.0,236.02L144.0,235.30L140.0,234.58L136.0,233.85L132.0,233.10L128.0,232.35L124.0,231.58L120.0,230.80L116.0,230.00L112.0,229.19L108.0,228.36L104.0,227.51L100.0,226.65L96.0,225.77L92.0,224.88L88.0,223.97L84.0,223.05L80.0,222.12L76.0,221.18L72.0,220.23L68.0,219.27L64.0,218.30L60.0,217.32L56.0,216.32L52.0,215.32L48.0,214.29L44.0,213.25L40.0,212.19L36.0,211.11L32.0,210.01L28.0,208.89L24.0,207.76L20.0,206.62L16.0,205.46L12.0,204.30Z"/>
</g>
<g class="axis">
<path d="M7,32H12V285"/>
<path d="M7,280H840"/>
<line class="yt" x1="7" x2="12" y1="44.0" y2="44.0"/>
<line class="yt" x1="7" x2="12" y1="73.5" y2="73.5"/>
<line class="yt" x1="7" x2="12" y1="73.5" y2="73.5"/>
<line class="yt" x1="7" x2="12" y1="103.0" y2="103.0"/>
<line class="yt" x1="7" x2="12" y1="132.5" y2="132.5"/>
<line class="yt" x1="7" x2="12" y1="132.5" y2="132.5"/>
<line class="yt" x1="7" x2="12" y1="162.0" y2="162.0"/>
<line class="yt" x1="7" x2="12" y1="191.5" y2="191.5"/>
<line class="yt" x1="7" x2="12" y1="191.5" y2="191.5"/>
<line class="yt" x1="7" x2="12" y1="221.0" y2="221.0"/>
<line class="yt" x1="7" x2="12" y1="250.5" y2="250.5"/>
<line class="yt" x1="7" x2="12" y1="250.5" y2="250.5"/>
<line class="yt" x1="7" x2="12" y1="280.0" y2="280.0"/>
<line x1="190.4" x2="190.4" y1="280" y2="285"/>
<line x1="398.4" x2="398.4" y1="280" y2="285"/>
<line x1="606.4" x2="606.4" y1="280" y2="285"/>
<line x1="814.4" x2="814.4" y1="280" y2="285"/>
</g>
<g class="ax">
<text class="yl" x="2.5" y="47.8" text-anchor="end">80</text>
<text class="yl" x="2.5" y="77.3" text-anchor="end">70</text>
<text class="yl" x="2.5" y="106.8" text-anchor="end">60</text>
<text class="yl" x="2.5" y="136.3" text-anchor="end">50</text>
<text class="yl" x="2.5" y="165.8" text-anchor="end">40</text>
<text class="yl" x="2.5" y="195.3" text-anchor="end">30</text>
<text class="yl" x="2.5" y="224.8" text-anchor="end">20</text>
<text class="yl" x="2.5" y="254.3" text-anchor="end">10</text>
<text class="yl" x="2.5" y="283.8" text-anchor="end">0</text>
<text x="190.4" y="295.7" text-anchor="middle">Aug 23</text>
<text x="398.4" y="295.7" text-anchor="middle">Aug 30</text>
<text x="606.4" y="295.7" text-anchor="middle">Sep 06</text>
<text x="814.4" y="295.7" text-anchor="middle">Sep 13</text>
</g>
<g class="legend">
<rect x="12.00" y="352" width="8.4" height="8" fill="#3182bd"/><text x="22.6" y="359.5">social</text>
<rect x="94.34" y="352" width="8.4" height="8" fill="#6baed6"/><text x="104.9" y="359.5">media</text>
<rect x="176.68" y="352" width="8.4" height="8" fill="#9ecae1"/><text x="187.3" y="359.5">data</text>
<rect x="259.02" y="352" width="8.4" height="8" fill="#c6dbef"/><text x="269.6" y="359.5">marketing</text>
<rect x="341.36" y="352" width="8.4" height="8" fill="#e6550d"/><text x="352.0" y="359.5">brands</text>
<rect x="423.70" y="352" width="8.4" height="8" fill="#fd8d3c"/><text x="434.3" y="359.5">new</text>
<rect x="506.04" y="352" width="8.4" height="8" fill="#fdae6b"/><text x="516.6" y="359.5">use</text>
<rect x="588.38" y="352" width="8.4" height="8" fill="#fdd0a2"/><text x="599.0" y="359.5">&#35;smwldn</text>
<rect x="670.72" y="352" width="8.4" height="8" fill="#31a354"/><text x="681.3" y="359.5">brand</text>
<rect x="753.06" y="352" width="8.4" height="8" fill="#74c476"/><text x="763.7" y="359.5">help</text>
<rect x="835.40" y="352" width="8.4" height="8" fill="#a1d99b"/><text x="846.0" y="359.5">tools</text>
<rect x="12.00" y="368" width="8.4" height="8" fill="#c7e9c0"/><text x="22.6" y="375.5">business</text>
<rect x="94.34" y="368" width="8.4" height="8" fill="#756bb1"/><text x="104.9" y="375.5">brandwatch</text>
<rect x="176.68" y="368" width="8.4" height="8" fill="#9e9ac8"/><text x="187.3" y="375.5">tra</text>
<rect x="259.02" y="368" width="8.4" height="8" fill="#bcbddc"/><text x="269.6" y="375.5">learn</text>
<rect x="341.36" y="368" width="8.4" height="8" fill="#dadaeb"/><text x="352.0" y="375.5">twitter</text>
<rect x="423.70" y="368" width="8.4" height="8" fill="#636363"/><text x="434.3" y="375.5">insights</text>
<rect x="506.04" y="368" width="8.4" height="8" fill="#969696"/><text x="516.6" y="375.5">best</text>
<rect x="588.38" y="368" width="8.4" height="8" fill="#bdbdbd"/><text x="599.0" y="375.5">content</text>
<rect x="670.72" y="368" width="8.4" height="8" fill="#d9d9d9"/><text x="681.3" y="375.5">using</text>
</g>
</svg>
</body></html>
